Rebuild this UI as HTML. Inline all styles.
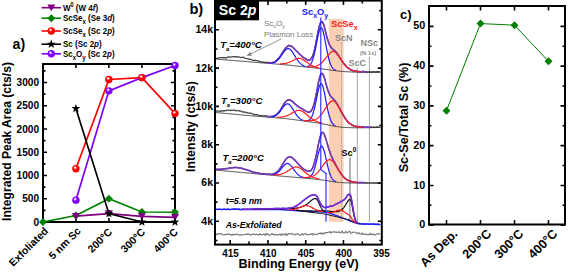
<!DOCTYPE html>
<html><head><meta charset="utf-8"><style>html,body{margin:0;padding:0;background:#fff;}svg{display:block;}</style></head>
<body><svg width="568" height="274" viewBox="0 0 568 274">
<defs><radialGradient id="g8000ff" cx="0.4" cy="0.36" r="0.6"><stop offset="0.08" stop-color="#fff"/><stop offset="0.42" stop-color="#8000ff"/><stop offset="1" stop-color="#8000ff"/></radialGradient><radialGradient id="gff0000" cx="0.4" cy="0.36" r="0.6"><stop offset="0.08" stop-color="#fff"/><stop offset="0.42" stop-color="#ff0000"/><stop offset="1" stop-color="#ff0000"/></radialGradient></defs>
<rect width="568" height="274" fill="#fff"/>
<g stroke="#000" stroke-width="2" fill="none">
<rect x="43" y="64" width="132" height="158"/>
</g>
<path d="M43,222h4M175,222h-4M43,210.38h2.5M175,210.38h-2.5M43,198.75h4M175,198.75h-4M43,187.12h2.5M175,187.12h-2.5M43,175.5h4M175,175.5h-4M43,163.88h2.5M175,163.88h-2.5M43,152.25h4M175,152.25h-4M43,140.62h2.5M175,140.62h-2.5M43,129h4M175,129h-4M43,117.38h2.5M175,117.38h-2.5M43,105.75h4M175,105.75h-4M43,94.12h2.5M175,94.12h-2.5M43,82.5h4M175,82.5h-4M43,70.88h2.5M175,70.88h-2.5M75.9,222v-4M75.9,64v4M108.9,222v-4M108.9,64v4M141.9,222v-4M141.9,64v4" stroke="#000" stroke-width="1.6" fill="none"/>
<text transform="translate(39,225.5) scale(1,1.08)" font-family="Liberation Sans, sans-serif" font-weight="bold" font-size="10.1" text-anchor="end">0</text>
<text transform="translate(39,202.25) scale(1,1.08)" font-family="Liberation Sans, sans-serif" font-weight="bold" font-size="10.1" text-anchor="end">500</text>
<text transform="translate(39,179) scale(1,1.08)" font-family="Liberation Sans, sans-serif" font-weight="bold" font-size="10.1" text-anchor="end">1000</text>
<text transform="translate(39,155.75) scale(1,1.08)" font-family="Liberation Sans, sans-serif" font-weight="bold" font-size="10.1" text-anchor="end">1500</text>
<text transform="translate(39,132.5) scale(1,1.08)" font-family="Liberation Sans, sans-serif" font-weight="bold" font-size="10.1" text-anchor="end">2000</text>
<text transform="translate(39,109.25) scale(1,1.08)" font-family="Liberation Sans, sans-serif" font-weight="bold" font-size="10.1" text-anchor="end">2500</text>
<text transform="translate(39,86) scale(1,1.08)" font-family="Liberation Sans, sans-serif" font-weight="bold" font-size="10.1" text-anchor="end">3000</text>
<text transform="translate(10.6,141.5) rotate(-90)" font-family="Liberation Sans, sans-serif" font-weight="bold" font-size="12.1" text-anchor="middle">Integrated Peak Area (cts/s)</text>
<text transform="translate(48.8,231.6) rotate(-45)" font-family="Liberation Sans, sans-serif" font-weight="bold" font-size="10.5" text-anchor="end">Exfoliated</text>
<text transform="translate(81.5,231.6) rotate(-45)" font-family="Liberation Sans, sans-serif" font-weight="bold" font-size="10.5" text-anchor="end">5 nm Sc</text>
<text transform="translate(112.8,232.6) rotate(-45)" font-family="Liberation Sans, sans-serif" font-weight="bold" font-size="10.5" text-anchor="end">200°C</text>
<text transform="translate(145.8,232.6) rotate(-45)" font-family="Liberation Sans, sans-serif" font-weight="bold" font-size="10.5" text-anchor="end">300°C</text>
<text transform="translate(178.6,232.6) rotate(-45)" font-family="Liberation Sans, sans-serif" font-weight="bold" font-size="10.5" text-anchor="end">400°C</text>
<text x="12.6" y="49.2" font-family="Liberation Sans, sans-serif" font-weight="bold" font-size="14.2">a)</text>
<path d="M75.9,200.15 L108.9,90.87 L141.9,77.62 L175,65.53" stroke="#8000ff" stroke-width="1.7" fill="none"/>
<path d="M75.9,168.76 L108.9,79.48 L141.9,77.62 L175,113.42" stroke="#ff0000" stroke-width="1.7" fill="none"/>
<path d="M43,222 L75.9,215.49 L108.9,198.75 L141.9,212 L175,212.24" stroke="#008000" stroke-width="1.7" fill="none"/>
<path d="M75.9,216.19 L108.9,213.63 L141.9,216.42 L175,217.35" stroke="#800080" stroke-width="1.7" fill="none"/>
<path d="M75.9,108.54 L108.9,213.63 L141.9,222 L175,222" stroke="#000000" stroke-width="1.7" fill="none"/>
<circle cx="75.9" cy="200.15" r="3.7" fill="url(#g8000ff)"/>
<circle cx="108.9" cy="90.87" r="3.7" fill="url(#g8000ff)"/>
<circle cx="141.9" cy="77.62" r="3.7" fill="url(#g8000ff)"/>
<circle cx="175" cy="65.53" r="3.7" fill="url(#g8000ff)"/>
<circle cx="75.9" cy="168.76" r="3.7" fill="url(#gff0000)"/>
<circle cx="108.9" cy="79.48" r="3.7" fill="url(#gff0000)"/>
<circle cx="141.9" cy="77.62" r="3.7" fill="url(#gff0000)"/>
<circle cx="175" cy="113.42" r="3.7" fill="url(#gff0000)"/>
<path d="M43,218L47,222L43,226L39,222Z" fill="#008000"/>
<path d="M75.9,211.49L79.9,215.49L75.9,219.49L71.9,215.49Z" fill="#008000"/>
<path d="M108.9,194.75L112.9,198.75L108.9,202.75L104.9,198.75Z" fill="#008000"/>
<path d="M141.9,208L145.9,212L141.9,216L137.9,212Z" fill="#008000"/>
<path d="M175,208.24L179,212.24L175,216.24L171,212.24Z" fill="#008000"/>
<path d="M71.9,212.89L79.9,212.89L75.9,219.79Z" fill="#800080"/>
<path d="M104.9,210.33L112.9,210.33L108.9,217.23Z" fill="#800080"/>
<path d="M137.9,213.12L145.9,213.12L141.9,220.02Z" fill="#800080"/>
<path d="M171,214.05L179,214.05L175,220.95Z" fill="#800080"/>
<path d="M75.9,103.94 L77.02,107 L80.27,107.12 L77.71,109.13 L78.6,112.26 L75.9,110.44 L73.2,112.26 L74.09,109.13 L71.53,107.12 L74.78,107Z" fill="#000000"/>
<path d="M108.9,209.03 L110.02,212.09 L113.27,212.21 L110.71,214.22 L111.6,217.35 L108.9,215.53 L106.2,217.35 L107.09,214.22 L104.53,212.21 L107.78,212.09Z" fill="#000000"/>
<path d="M141.9,217.4 L143.02,220.46 L146.27,220.58 L143.71,222.59 L144.6,225.72 L141.9,223.9 L139.2,225.72 L140.09,222.59 L137.53,220.58 L140.78,220.46Z" fill="#000000"/>
<path d="M175,217.4 L176.12,220.46 L179.37,220.58 L176.81,222.59 L177.7,225.72 L175,223.9 L172.3,225.72 L173.19,222.59 L170.63,220.58 L173.88,220.46Z" fill="#000000"/>
<path d="M41.5,7.7H61" stroke="#800080" stroke-width="1.6"/>
<path d="M47.3,4.4L55.3,4.4L51.3,11.3Z" fill="#800080"/>
<text transform="translate(63,10.8) scale(1,1.15)" font-family="Liberation Sans, sans-serif" font-weight="bold" font-size="8.0">W<tspan dy="-3" font-size="5.5">0</tspan><tspan dy="3"> (W 4</tspan><tspan font-style="italic">f</tspan>)</text>
<path d="M41.5,18.2H61" stroke="#008000" stroke-width="1.6"/>
<path d="M51.3,14.2L55.3,18.2L51.3,22.2L47.3,18.2Z" fill="#008000"/>
<text transform="translate(63,21.3) scale(1,1.15)" font-family="Liberation Sans, sans-serif" font-weight="bold" font-size="8.0">ScSe<tspan dy="2.5" font-size="6">x</tspan><tspan dy="-2.5"> (Se 3</tspan><tspan font-style="italic">d</tspan>)</text>
<path d="M41.5,31H61" stroke="#ff0000" stroke-width="1.6"/>
<circle cx="51.3" cy="31" r="3.7" fill="url(#gff0000)"/>
<text transform="translate(63,34.1) scale(1,1.15)" font-family="Liberation Sans, sans-serif" font-weight="bold" font-size="8.0">ScSe<tspan dy="2.5" font-size="6">x</tspan><tspan dy="-2.5"> (Sc 2</tspan><tspan font-style="italic">p</tspan>)</text>
<path d="M41.5,44.2H61" stroke="#000000" stroke-width="1.6"/>
<path d="M51.3,39.6 L52.42,42.66 L55.67,42.78 L53.11,44.79 L54,47.92 L51.3,46.1 L48.6,47.92 L49.49,44.79 L46.93,42.78 L50.18,42.66Z" fill="#000000"/>
<text transform="translate(63,47.3) scale(1,1.15)" font-family="Liberation Sans, sans-serif" font-weight="bold" font-size="8.0">Sc (Sc 2<tspan font-style="italic">p</tspan>)</text>
<path d="M41.5,53.8H61" stroke="#8000ff" stroke-width="1.6"/>
<circle cx="51.3" cy="53.8" r="3.7" fill="url(#g8000ff)"/>
<text transform="translate(63,56.9) scale(1,1.15)" font-family="Liberation Sans, sans-serif" font-weight="bold" font-size="8.0">Sc<tspan dy="2.5" font-size="6">x</tspan><tspan dy="-2.5">O</tspan><tspan dy="2.5" font-size="6">y</tspan><tspan dy="-2.5"> (Sc 2</tspan><tspan font-style="italic">p</tspan>)</text>
<rect x="328.8" y="18.8" width="14.8" height="203" fill="#fbcfb3"/>
<path d="M341.5,42.5V221.7" stroke="#888" stroke-width="0.8" stroke-dasharray="1.2,1.2"/>
<path d="M349.9,157.5V221.7" stroke="#9a9a9a" stroke-width="1.5"/>
<path d="M357.3,67.5V222M369.4,57V222" stroke="#9a9a9a" stroke-width="0.9"/>
<path d="M216,58.15 L217,58.41 L218,58.27 L219,57.79 L220,57.7 L221,57.66 L222,57.89 L223,57.52 L224,57.87 L225,57.72 L226,57.96 L227,57.74 L228,56.98 L229,57.02 L230,56.8 L231,57.12 L232,56.96 L233,56.45 L234,56.97 L235,56.62 L236,56.75 L237,57.09 L238,56.65 L239,56.99 L240,57.28 L241,57.65 L242,57.31 L243,57.26 L244,57.37 L245,58.25 L246,58.59 L247,58.69 L248,58.85 L249,59.35 L250,59.3 L251,59.2 L252,60 L253,60.42 L254,60.28 L255,60.2 L256,60.57 L257,60.7 L258,60.98 L259,61.41 L260,61.32 L261,61.92 L262,62.32 L263,61.99 L264,62.19 L265,62.85 L266,62.25 L267,62.39 L268,62.77 L269,62.28 L270,62.6 L271,63.07 L272,62.55 L273,62.48 L274,62.36 L275,61.88 L276,60.84 L277,59.79 L278,58.79 L279,57.76 L280,56.55 L281,54.76 L282,53.27 L283,51.59 L284,50.53 L285,48.74 L286,47.57 L287,47 L288,45.97 L289,45.3 L290,45.55 L291,46.33 L292,46.21 L293,47.48 L294,48.44 L295,49.45 L296,50.79 L297,51.28 L298,52.2 L299,53.5 L300,54.26 L301,55.61 L302,56.54 L303,57.36 L304,57.63 L305,58.48 L306,58.83 L307,59.56 L308,60.51 L309,60.56 L310,60.24 L311,58.71 L312,57.12 L313,55.11 L314,52 L315,47.64 L316,42.23 L317,37.69 L318,32.31 L319,27.15 L320,23.76 L321,22.35 L322,21.58 L323,23.28 L324,25.49 L325,29.81 L326,33.1 L327,37.72 L328,40.58 L329,43.18 L330,46.07 L331,47.24 L332,48.31 L333,49.6 L334,49.96 L335,50.9 L336,52 L337,53.13 L338,54.71 L339,56.41 L340,57.81 L341,59.44 L342,60.98 L343,62.36 L344,63.33 L345,64.72 L346,66.32 L347,66.94 L348,67.99 L349,68.31 L350,69.04 L351,70.01 L352,70.23 L353,70.88 L354,70.89 L355,71.02 L356,71.14 L357,71.3 L358,71.62 L359,71.93 L360,71.66 L361,71.97 L362,71.38 L363,71.37 L364,71.41 L365,72.07 L366,71.53 L367,72.01 L368,72.22 L369,71.64 L370,71.82 L371,72.36 L372,71.63 L373,71.95 L374,71.67 L375,72.16 L376,72.01 L377,71.54 L378,72.09 L379,71.59 L380,72.25" stroke="#4a4a4a" stroke-width="1.3" fill="none"/>
<path d="M216,59.07 L216.5,59.11 L217,59.15 L217.5,59.19 L218,59.23 L218.5,59.27 L219,59.31 L219.5,59.36 L220,59.4 L220.5,59.44 L221,59.48 L221.5,59.52 L222,59.56 L222.5,59.6 L223,59.65 L223.5,59.69 L224,59.73 L224.5,59.77 L225,59.81 L225.5,59.85 L226,59.9 L226.5,59.94 L227,59.98 L227.5,60.02 L228,60.06 L228.5,60.1 L229,60.14 L229.5,60.19 L230,60.23 L230.5,60.27 L231,60.31 L231.5,60.35 L232,60.39 L232.5,60.43 L233,60.48 L233.5,60.52 L234,60.56 L234.5,60.6 L235,60.64 L235.5,60.68 L236,60.72 L236.5,60.77 L237,60.81 L237.5,60.85 L238,60.89 L238.5,60.93 L239,60.97 L239.5,61.01 L240,61.06 L240.5,61.1 L241,61.14 L241.5,61.18 L242,61.22 L242.5,61.26 L243,61.3 L243.5,61.35 L244,61.39 L244.5,61.43 L245,61.47 L245.5,61.51 L246,61.55 L246.5,61.6 L247,61.64 L247.5,61.68 L248,61.72 L248.5,61.76 L249,61.8 L249.5,61.84 L250,61.88 L250.5,61.93 L251,61.97 L251.5,62.01 L252,62.05 L252.5,62.09 L253,62.13 L253.5,62.17 L254,62.21 L254.5,62.26 L255,62.3 L255.5,62.34 L256,62.38 L256.5,62.42 L257,62.46 L257.5,62.5 L258,62.54 L258.5,62.58 L259,62.62 L259.5,62.66 L260,62.71 L260.5,62.75 L261,62.79 L261.5,62.83 L262,62.87 L262.5,62.91 L263,62.95 L263.5,62.99 L264,63.03 L264.5,63.07 L265,63.11 L265.5,63.15 L266,63.19 L266.5,63.23 L267,63.28 L267.5,63.32 L268,63.36 L268.5,63.4 L269,63.44 L269.5,63.48 L270,63.52 L270.5,63.56 L271,63.6 L271.5,63.64 L272,63.68 L272.5,63.72 L273,63.76 L273.5,63.8 L274,63.84 L274.5,63.88 L275,63.93 L275.5,63.97 L276,64.01 L276.5,64.05 L277,64.09 L277.5,64.13 L278,64.17 L278.5,64.21 L279,64.25 L279.5,64.29 L280,64.34 L280.5,64.38 L281,64.42 L281.5,64.46 L282,64.5 L282.5,64.55 L283,64.59 L283.5,64.64 L284,64.68 L284.5,64.73 L285,64.77 L285.5,64.82 L286,64.86 L286.5,64.91 L287,64.96 L287.5,65.01 L288,65.06 L288.5,65.11 L289,65.16 L289.5,65.21 L290,65.26 L290.5,65.31 L291,65.37 L291.5,65.42 L292,65.47 L292.5,65.53 L293,65.58 L293.5,65.63 L294,65.69 L294.5,65.74 L295,65.8 L295.5,65.85 L296,65.91 L296.5,65.97 L297,66.02 L297.5,66.08 L298,66.13 L298.5,66.19 L299,66.25 L299.5,66.3 L300,66.36 L300.5,66.41 L301,66.47 L301.5,66.53 L302,66.58 L302.5,66.64 L303,66.69 L303.5,66.75 L304,66.81 L304.5,66.86 L305,66.92 L305.5,66.97 L306,67.03 L306.5,67.09 L307,67.14 L307.5,67.2 L308,67.25 L308.5,67.31 L309,67.37 L309.5,67.42 L310,67.48 L310.5,67.54 L311,67.59 L311.5,67.65 L312,67.71 L312.5,67.76 L313,67.82 L313.5,67.88 L314,67.93 L314.5,67.99 L315,68.05 L315.5,68.11 L316,68.17 L316.5,68.23 L317,68.29 L317.5,68.35 L318,68.41 L318.5,68.47 L319,68.53 L319.5,68.59 L320,68.65 L320.5,68.72 L321,68.78 L321.5,68.85 L322,68.91 L322.5,68.98 L323,69.04 L323.5,69.11 L324,69.18 L324.5,69.24 L325,69.31 L325.5,69.38 L326,69.45 L326.5,69.52 L327,69.58 L327.5,69.65 L328,69.72 L328.5,69.79 L329,69.86 L329.5,69.93 L330,70 L330.5,70.07 L331,70.14 L331.5,70.2 L332,70.27 L332.5,70.34 L333,70.41 L333.5,70.47 L334,70.54 L334.5,70.6 L335,70.67 L335.5,70.73 L336,70.79 L336.5,70.85 L337,70.91 L337.5,70.97 L338,71.02 L338.5,71.08 L339,71.13 L339.5,71.18 L340,71.23 L340.5,71.27 L341,71.32 L341.5,71.36 L342,71.4 L342.5,71.44 L343,71.48 L343.5,71.52 L344,71.55 L344.5,71.58 L345,71.62 L345.5,71.65 L346,71.68 L346.5,71.71 L347,71.74 L347.5,71.76 L348,71.79 L348.5,71.82 L349,71.84 L349.5,71.87 L350,71.89 L350.5,71.92 L351,71.94 L351.5,71.97 L352,71.99 L352.5,72.01 L353,72.03 L353.5,72.05 L354,72.07 L354.5,72.09 L355,72.11 L355.5,72.12 L356,72.14 L356.5,72.16 L357,72.17 L357.5,72.18 L358,72.2 L358.5,72.21 L359,72.22 L359.5,72.23 L360,72.23 L360.5,72.24 L361,72.25 L361.5,72.25 L362,72.25 L362.5,72.26 L363,72.26 L363.5,72.26 L364,72.26 L364.5,72.26 L365,72.26 L365.5,72.26 L366,72.26 L366.5,72.26 L367,72.26 L367.5,72.26 L368,72.26 L368.5,72.26 L369,72.25 L369.5,72.25 L370,72.25 L370.5,72.25 L371,72.25 L371.5,72.24 L372,72.24 L372.5,72.24 L373,72.24 L373.5,72.24 L374,72.23 L374.5,72.23 L375,72.23 L375.5,72.23 L376,72.23 L376.5,72.22 L377,72.22 L377.5,72.22 L378,72.22 L378.5,72.22 L379,72.22 L379.5,72.21 L380,72.21 L380.5,72.21" stroke="#2a2a2a" stroke-width="0.9" fill="none"/>
<path d="M267,62.87 L267.5,62.88 L268,62.89 L268.5,62.9 L269,62.89 L269.5,62.88 L270,62.86 L270.5,62.82 L271,62.78 L271.5,62.71 L272,62.63 L272.5,62.53 L273,62.4 L273.5,62.25 L274,62.07 L274.5,61.85 L275,61.6 L275.5,61.31 L276,60.98 L276.5,60.61 L277,60.19 L277.5,59.73 L278,59.22 L278.5,58.66 L279,58.05 L279.5,57.41 L280,56.72 L280.5,55.99 L281,55.24 L281.5,54.45 L282,53.65 L282.5,52.85 L283,52.03 L283.5,51.23 L284,50.45 L284.5,49.69 L285,48.98 L285.5,48.31 L286,47.71 L286.5,47.17 L287,46.7 L287.5,46.32 L288,46.02 L288.5,45.81 L289,45.69 L289.5,45.65 L290,45.71 L290.5,45.84 L291,46.05 L291.5,46.32 L292,46.66 L292.5,47.04 L293,47.47 L293.5,47.93 L294,48.41 L294.5,48.92 L295,49.43 L295.5,49.95 L296,50.48 L296.5,50.99 L297,51.51 L297.5,52.01 L298,52.51 L298.5,53 L299,53.48 L299.5,53.96 L300,54.43 L300.5,54.89 L301,55.34 L301.5,55.79 L302,56.23 L302.5,56.66 L303,57.08 L303.5,57.49 L304,57.88 L304.5,58.26 L305,58.62 L305.5,58.95 L306,59.26 L306.5,59.54 L307,59.78 L307.5,59.97 L308,60.11 L308.5,60.18 L309,60.17 L309.5,60.06 L310,59.84 L310.5,59.48 L311,58.96 L311.5,58.28 L312,57.4 L312.5,56.31 L313,55 L313.5,53.46 L314,51.7 L314.5,49.71 L315,47.51 L315.5,45.14 L316,42.61 L316.5,39.99 L317,37.32 L317.5,34.67 L318,32.09 L318.5,29.66 L319,27.45 L319.5,25.51 L320,23.92 L320.5,22.71 L321,21.93 L321.5,21.58 L322,21.67 L322.5,22.19 L323,23.08 L323.5,24.32 L324,25.83 L324.5,27.57 L325,29.45 L325.5,31.42 L326,33.42 L326.5,35.39 L327,37.29 L327.5,39.07 L328,40.72 L328.5,42.2 L329,43.51 L329.5,44.66 L330,45.65 L330.5,46.5 L331,47.22 L331.5,47.84 L332,48.38 L332.5,48.86 L333,49.31 L333.5,49.75 L334,50.19 L334.5,50.65 L335,51.14 L335.5,51.66 L336,52.22 L336.5,52.82 L337,53.46 L337.5,54.14 L338,54.85 L338.5,55.58 L339,56.34 L339.5,57.11 L340,57.88 L340.5,58.66 L341,59.44 L341.5,60.21 L342,60.97 L342.5,61.7 L343,62.42 L343.5,63.11 L344,63.78 L344.5,64.41 L345,65.02 L345.5,65.59 L346,66.13 L346.5,66.63 L347,67.1 L347.5,67.54 L348,67.94 L348.5,68.32 L349,68.66 L349.5,68.98 L350,69.27 L350.5,69.53 L351,69.77 L351.5,69.98 L352,70.18 L352.5,70.36 L353,70.51 L353.5,70.66 L354,70.79 L354.5,70.9 L355,71.01 L355.5,71.1 L356,71.18 L356.5,71.26 L357,71.33 L357.5,71.39 L358,71.44 L358.5,71.49 L359,71.53 L359.5,71.57 L360,71.61 L360.5,71.64 L361,71.67 L361.5,71.7 L362,71.72 L362.5,71.74 L363,71.76 L363.5,71.78 L364,71.79 L364.5,71.81 L365,71.82 L365.5,71.83 L366,71.84 L366.5,71.86" stroke="#7a28d8" stroke-width="1.5" fill="none"/>
<path d="M267,62.09 L268,62.47 L269,61.98 L270,62.3 L271,62.77 L272,62.25 L273,62.18 L274,62.06 L275,61.58 L276,60.54 L277,59.49 L278,58.49 L279,57.46 L280,56.25 L281,54.46 L282,52.97 L283,51.29 L284,50.23 L285,48.44 L286,47.27 L287,46.7 L288,45.67 L289,45 L290,45.25 L291,46.03 L292,45.91 L293,47.18 L294,48.14 L295,49.15 L296,50.49 L297,50.98 L298,51.9 L299,53.2 L300,53.96 L301,55.31 L302,56.24 L303,57.06 L304,57.33 L305,58.18 L306,58.53 L307,59.26 L308,60.21 L309,60.26 L310,59.94 L311,58.41 L312,56.82 L313,54.81 L314,51.7 L315,47.34 L316,41.93 L317,37.39 L318,32.01 L319,26.85 L320,23.46 L321,22.05 L322,21.28 L323,22.98 L324,25.19 L325,29.51 L326,32.8 L327,37.42 L328,40.28 L329,42.88 L330,45.77 L331,46.94 L332,48.01 L333,49.3 L334,49.66 L335,50.6 L336,51.7 L337,52.83 L338,54.41 L339,56.11 L340,57.51 L341,59.14 L342,60.68 L343,62.06 L344,63.03 L345,64.42 L346,66.02 L347,66.64 L348,67.69 L349,68.01 L350,68.74 L351,69.71 L352,69.93 L353,70.58 L354,70.59 L355,70.72 L356,70.84 L357,71 L358,71.32 L359,71.63 L360,71.36 L361,71.67 L362,71.08 L363,71.07 L364,71.11 L365,71.77 L366,71.23" stroke="#666" stroke-width="0.6" stroke-opacity="0.55" fill="none"/>
<path d="M271,63.09 L271.5,63.04 L272,62.97 L272.5,62.88 L273,62.76 L273.5,62.62 L274,62.45 L274.5,62.25 L275,62.01 L275.5,61.74 L276,61.43 L276.5,61.08 L277,60.68 L277.5,60.24 L278,59.75 L278.5,59.23 L279,58.66 L279.5,58.05 L280,57.4 L280.5,56.72 L281,56.02 L281.5,55.3 L282,54.57 L282.5,53.83 L283,53.1 L283.5,52.4 L284,51.72 L284.5,51.08 L285,50.49 L285.5,49.97 L286,49.51 L286.5,49.14 L287,48.86 L287.5,48.68 L288,48.59 L288.5,48.61 L289,48.73 L289.5,48.96 L290,49.28 L290.5,49.7 L291,50.21 L291.5,50.79 L292,51.44 L292.5,52.15 L293,52.9 L293.5,53.69 L294,54.51 L294.5,55.34 L295,56.17 L295.5,57 L296,57.81 L296.5,58.6 L297,59.36 L297.5,60.09 L298,60.79 L298.5,61.44 L299,62.04 L299.5,62.61 L300,63.13 L300.5,63.6 L301,64.04 L301.5,64.43 L302,64.78 L302.5,65.1 L303,65.39 L303.5,65.64 L304,65.87 L304.5,66.07 L305,66.25 L305.5,66.41" stroke="#1a1aff" stroke-width="1.2" fill="none"/>
<path d="M306.5,66.56 L307,66.49 L307.5,66.39 L308,66.23 L308.5,66.02 L309,65.73 L309.5,65.36 L310,64.88 L310.5,64.28 L311,63.54 L311.5,62.64 L312,61.56 L312.5,60.3 L313,58.84 L313.5,57.17 L314,55.3 L314.5,53.24 L315,51 L315.5,48.62 L316,46.12 L316.5,43.56 L317,40.99 L317.5,38.47 L318,36.07 L318.5,33.86 L319,31.9 L319.5,30.27 L320,29.01 L320.5,28.18 L321,27.82 L321.5,27.93 L322,28.52 L322.5,29.56 L323,31.03 L323.5,32.86 L324,35 L324.5,37.39 L325,39.94 L325.5,42.61 L326,45.31 L326.5,47.99 L327,50.59 L327.5,53.08 L328,55.41 L328.5,57.56 L329,59.52 L329.5,61.27 L330,62.82 L330.5,64.17 L331,65.33 L331.5,66.32 L332,67.16 L332.5,67.86 L333,68.44 L333.5,68.92 L334,69.31 L334.5,69.63 L335,69.89 L335.5,70.11 L336,70.29" stroke="#1a1aff" stroke-width="1.2" fill="none"/>
<path d="M280,63.82 L280.5,63.82 L281,63.81 L281.5,63.8 L282,63.78 L282.5,63.75 L283,63.71 L283.5,63.67 L284,63.61 L284.5,63.54 L285,63.47 L285.5,63.37 L286,63.27 L286.5,63.16 L287,63.03 L287.5,62.88 L288,62.72 L288.5,62.55 L289,62.36 L289.5,62.16 L290,61.95 L290.5,61.72 L291,61.48 L291.5,61.24 L292,60.98 L292.5,60.72 L293,60.46 L293.5,60.19 L294,59.93 L294.5,59.68 L295,59.43 L295.5,59.2 L296,58.98 L296.5,58.79 L297,58.62 L297.5,58.48 L298,58.38 L298.5,58.31 L299,58.29 L299.5,58.3 L300,58.37 L300.5,58.47 L301,58.61 L301.5,58.8 L302,59.02 L302.5,59.28 L303,59.56 L303.5,59.87 L304,60.21 L304.5,60.55 L305,60.91 L305.5,61.28 L306,61.65 L306.5,62.03 L307,62.4 L307.5,62.77 L308,63.13 L308.5,63.49 L309,63.83 L309.5,64.16 L310,64.48 L310.5,64.79 L311,65.08 L311.5,65.36 L312,65.62 L312.5,65.86 L313,66.1 L313.5,66.32 L314,66.52 L314.5,66.71 L315,66.89 L315.5,67.06 L316,67.22 L316.5,67.36 L317,67.5 L317.5,67.63 L318,67.75 L318.5,67.87 L319,67.98 L319.5,68.09" stroke="#ff1a1a" stroke-width="1.2" fill="none"/>
<path d="M306.5,66.58 L307,66.62 L307.5,66.65 L308,66.67 L308.5,66.7 L309,66.72 L309.5,66.73 L310,66.75 L310.5,66.75 L311,66.75 L311.5,66.74 L312,66.72 L312.5,66.7 L313,66.66 L313.5,66.61 L314,66.55 L314.5,66.47 L315,66.38 L315.5,66.27 L316,66.14 L316.5,65.98 L317,65.81 L317.5,65.61 L318,65.38 L318.5,65.13 L319,64.85 L319.5,64.54 L320,64.2 L320.5,63.82 L321,63.42 L321.5,62.98 L322,62.51 L322.5,62.01 L323,61.48 L323.5,60.93 L324,60.35 L324.5,59.74 L325,59.12 L325.5,58.48 L326,57.84 L326.5,57.19 L327,56.54 L327.5,55.89 L328,55.26 L328.5,54.66 L329,54.08 L329.5,53.54 L330,53.04 L330.5,52.6 L331,52.22 L331.5,51.91 L332,51.67 L332.5,51.52 L333,51.45 L333.5,51.47 L334,51.58 L334.5,51.78 L335,52.07 L335.5,52.43 L336,52.87 L336.5,53.38 L337,53.95 L337.5,54.57 L338,55.24 L338.5,55.94 L339,56.67 L339.5,57.42 L340,58.18 L340.5,58.94 L341,59.71 L341.5,60.47 L342,61.21 L342.5,61.94 L343,62.65 L343.5,63.33 L344,63.99 L344.5,64.62 L345,65.22 L345.5,65.78 L346,66.32 L346.5,66.81 L347,67.28 L347.5,67.71 L348,68.11 L348.5,68.48 L349,68.82 L349.5,69.13 L350,69.42 L350.5,69.68 L351,69.91 L351.5,70.12 L352,70.32 L352.5,70.49 L353,70.65 L353.5,70.79 L354,70.91 L354.5,71.03 L355,71.13 L355.5,71.22 L356,71.3 L356.5,71.37 L357,71.44 L357.5,71.49 L358,71.55 L358.5,71.59 L359,71.64 L359.5,71.67 L360,71.71 L360.5,71.74" stroke="#ff1a1a" stroke-width="1.2" fill="none"/>
<path d="M216,111.05 L217,110.95 L218,111.1 L219,111.17 L220,111.46 L221,110.78 L222,111.07 L223,110.56 L224,111.01 L225,110.37 L226,110.79 L227,110.22 L228,110.14 L229,110.43 L230,110.48 L231,110.19 L232,110.42 L233,110.05 L234,110.03 L235,110.31 L236,110.79 L237,110.66 L238,110.64 L239,110.7 L240,111.3 L241,110.99 L242,111.86 L243,111.98 L244,111.91 L245,112.06 L246,112.58 L247,112.52 L248,113.1 L249,113.09 L250,113.03 L251,113.3 L252,113.71 L253,113.79 L254,114.73 L255,114.42 L256,114.64 L257,114.72 L258,115 L259,115.81 L260,115.32 L261,115.53 L262,115.4 L263,115.96 L264,115.83 L265,115.76 L266,115.93 L267,115.97 L268,116.27 L269,116.56 L270,116.71 L271,116.64 L272,116.24 L273,116.59 L274,116.05 L275,115.01 L276,115.17 L277,114.25 L278,112.73 L279,111.86 L280,110.75 L281,109.02 L282,107.47 L283,105.4 L284,103.7 L285,102.22 L286,101.42 L287,100.59 L288,99.93 L289,100.06 L290,99.99 L291,100.62 L292,101.4 L293,101.65 L294,103.15 L295,104.07 L296,104.72 L297,105.51 L298,106.5 L299,107.07 L300,107.26 L301,108.41 L302,108.86 L303,109.02 L304,110.17 L305,110.78 L306,111.19 L307,111.64 L308,112.37 L309,112.55 L310,111.44 L311,111.39 L312,109.6 L313,107.11 L314,103.92 L315,99.77 L316,95.67 L317,90.29 L318,85.09 L319,79.76 L320,76.29 L321,73.62 L322,73.45 L323,74.21 L324,76.71 L325,79.64 L326,83.98 L327,87.59 L328,90.72 L329,92.85 L330,95.45 L331,96.43 L332,97.56 L333,98.45 L334,99.65 L335,100.76 L336,102.31 L337,103.67 L338,105.79 L339,107.34 L340,109.49 L341,111.18 L342,113.06 L343,114.89 L344,116.18 L345,118.34 L346,119.38 L347,120.51 L348,122.26 L349,122.96 L350,123.71 L351,124.07 L352,124.7 L353,125.44 L354,126.21 L355,126.11 L356,126.14 L357,126.47 L358,126.54 L359,126.96 L360,127.21 L361,126.98 L362,127 L363,126.75 L364,127.59 L365,127.19 L366,127.52 L367,126.99 L368,127.1 L369,127.59 L370,127.51 L371,126.74 L372,127.5 L373,127.21 L374,127.02 L375,127.39 L376,127.51 L377,126.72 L378,127.08 L379,127.44 L380,127.16" stroke="#4a4a4a" stroke-width="1.3" fill="none"/>
<path d="M216,112.58 L216.5,112.63 L217,112.67 L217.5,112.72 L218,112.76 L218.5,112.81 L219,112.85 L219.5,112.9 L220,112.94 L220.5,112.99 L221,113.03 L221.5,113.08 L222,113.12 L222.5,113.17 L223,113.21 L223.5,113.26 L224,113.3 L224.5,113.35 L225,113.39 L225.5,113.44 L226,113.48 L226.5,113.53 L227,113.57 L227.5,113.62 L228,113.66 L228.5,113.71 L229,113.75 L229.5,113.8 L230,113.84 L230.5,113.89 L231,113.93 L231.5,113.98 L232,114.02 L232.5,114.07 L233,114.11 L233.5,114.16 L234,114.2 L234.5,114.25 L235,114.3 L235.5,114.34 L236,114.39 L236.5,114.43 L237,114.48 L237.5,114.52 L238,114.57 L238.5,114.61 L239,114.66 L239.5,114.7 L240,114.75 L240.5,114.79 L241,114.84 L241.5,114.88 L242,114.93 L242.5,114.97 L243,115.02 L243.5,115.06 L244,115.11 L244.5,115.15 L245,115.2 L245.5,115.24 L246,115.29 L246.5,115.33 L247,115.38 L247.5,115.42 L248,115.47 L248.5,115.51 L249,115.56 L249.5,115.6 L250,115.64 L250.5,115.69 L251,115.73 L251.5,115.78 L252,115.82 L252.5,115.86 L253,115.91 L253.5,115.95 L254,115.99 L254.5,116.03 L255,116.08 L255.5,116.12 L256,116.16 L256.5,116.2 L257,116.24 L257.5,116.28 L258,116.32 L258.5,116.37 L259,116.41 L259.5,116.45 L260,116.49 L260.5,116.53 L261,116.57 L261.5,116.61 L262,116.65 L262.5,116.68 L263,116.72 L263.5,116.76 L264,116.8 L264.5,116.84 L265,116.88 L265.5,116.92 L266,116.96 L266.5,117 L267,117.04 L267.5,117.08 L268,117.12 L268.5,117.15 L269,117.19 L269.5,117.23 L270,117.27 L270.5,117.31 L271,117.35 L271.5,117.39 L272,117.43 L272.5,117.47 L273,117.51 L273.5,117.55 L274,117.58 L274.5,117.62 L275,117.66 L275.5,117.7 L276,117.74 L276.5,117.78 L277,117.82 L277.5,117.86 L278,117.9 L278.5,117.94 L279,117.98 L279.5,118.02 L280,118.06 L280.5,118.1 L281,118.15 L281.5,118.19 L282,118.23 L282.5,118.28 L283,118.32 L283.5,118.37 L284,118.42 L284.5,118.46 L285,118.51 L285.5,118.56 L286,118.62 L286.5,118.67 L287,118.72 L287.5,118.78 L288,118.84 L288.5,118.9 L289,118.95 L289.5,119.02 L290,119.08 L290.5,119.14 L291,119.2 L291.5,119.27 L292,119.34 L292.5,119.4 L293,119.47 L293.5,119.54 L294,119.61 L294.5,119.67 L295,119.74 L295.5,119.81 L296,119.88 L296.5,119.95 L297,120.03 L297.5,120.1 L298,120.17 L298.5,120.24 L299,120.31 L299.5,120.38 L300,120.45 L300.5,120.52 L301,120.59 L301.5,120.67 L302,120.74 L302.5,120.81 L303,120.88 L303.5,120.95 L304,121.02 L304.5,121.09 L305,121.16 L305.5,121.23 L306,121.31 L306.5,121.38 L307,121.45 L307.5,121.52 L308,121.59 L308.5,121.66 L309,121.73 L309.5,121.81 L310,121.88 L310.5,121.95 L311,122.02 L311.5,122.09 L312,122.17 L312.5,122.24 L313,122.31 L313.5,122.39 L314,122.46 L314.5,122.53 L315,122.61 L315.5,122.69 L316,122.76 L316.5,122.84 L317,122.92 L317.5,123 L318,123.08 L318.5,123.17 L319,123.25 L319.5,123.33 L320,123.42 L320.5,123.51 L321,123.6 L321.5,123.69 L322,123.78 L322.5,123.87 L323,123.96 L323.5,124.06 L324,124.15 L324.5,124.25 L325,124.35 L325.5,124.45 L326,124.54 L326.5,124.64 L327,124.74 L327.5,124.84 L328,124.94 L328.5,125.05 L329,125.15 L329.5,125.25 L330,125.35 L330.5,125.45 L331,125.55 L331.5,125.65 L332,125.75 L332.5,125.84 L333,125.94 L333.5,126.04 L334,126.13 L334.5,126.22 L335,126.31 L335.5,126.4 L336,126.48 L336.5,126.56 L337,126.64 L337.5,126.72 L338,126.79 L338.5,126.86 L339,126.93 L339.5,126.99 L340,127.05 L340.5,127.11 L341,127.16 L341.5,127.21 L342,127.25 L342.5,127.3 L343,127.33 L343.5,127.37 L344,127.4 L344.5,127.43 L345,127.46 L345.5,127.49 L346,127.51 L346.5,127.53 L347,127.55 L347.5,127.57 L348,127.59 L348.5,127.6 L349,127.62 L349.5,127.63 L350,127.65 L350.5,127.66 L351,127.67 L351.5,127.68 L352,127.7 L352.5,127.71 L353,127.72 L353.5,127.73 L354,127.74 L354.5,127.75 L355,127.75 L355.5,127.76 L356,127.77 L356.5,127.78 L357,127.78 L357.5,127.78 L358,127.79 L358.5,127.79 L359,127.79 L359.5,127.79 L360,127.79 L360.5,127.79 L361,127.78 L361.5,127.78 L362,127.77 L362.5,127.77 L363,127.76 L363.5,127.75 L364,127.74 L364.5,127.73 L365,127.72 L365.5,127.71 L366,127.7 L366.5,127.68 L367,127.67 L367.5,127.66 L368,127.64 L368.5,127.63 L369,127.61 L369.5,127.6 L370,127.58 L370.5,127.57 L371,127.55 L371.5,127.53 L372,127.52 L372.5,127.5 L373,127.49 L373.5,127.47 L374,127.46 L374.5,127.44 L375,127.43 L375.5,127.41 L376,127.4 L376.5,127.38 L377,127.37 L377.5,127.36 L378,127.34 L378.5,127.33 L379,127.32 L379.5,127.31 L380,127.3 L380.5,127.29" stroke="#2a2a2a" stroke-width="0.9" fill="none"/>
<path d="M266.5,116.58 L267,116.6 L267.5,116.62 L268,116.63 L268.5,116.64 L269,116.64 L269.5,116.63 L270,116.62 L270.5,116.59 L271,116.56 L271.5,116.5 L272,116.43 L272.5,116.34 L273,116.23 L273.5,116.09 L274,115.92 L274.5,115.71 L275,115.47 L275.5,115.19 L276,114.87 L276.5,114.5 L277,114.08 L277.5,113.61 L278,113.09 L278.5,112.51 L279,111.89 L279.5,111.22 L280,110.51 L280.5,109.76 L281,108.97 L281.5,108.16 L282,107.33 L282.5,106.49 L283,105.66 L283.5,104.84 L284,104.05 L284.5,103.3 L285,102.6 L285.5,101.95 L286,101.38 L286.5,100.89 L287,100.49 L287.5,100.18 L288,99.96 L288.5,99.83 L289,99.8 L289.5,99.86 L290,100 L290.5,100.21 L291,100.49 L291.5,100.82 L292,101.19 L292.5,101.61 L293,102.04 L293.5,102.5 L294,102.95 L294.5,103.41 L295,103.87 L295.5,104.31 L296,104.73 L296.5,105.14 L297,105.54 L297.5,105.91 L298,106.27 L298.5,106.62 L299,106.95 L299.5,107.27 L300,107.58 L300.5,107.89 L301,108.2 L301.5,108.51 L302,108.81 L302.5,109.11 L303,109.42 L303.5,109.72 L304,110.03 L304.5,110.33 L305,110.63 L305.5,110.91 L306,111.19 L306.5,111.44 L307,111.67 L307.5,111.87 L308,112.02 L308.5,112.11 L309,112.13 L309.5,112.06 L310,111.88 L310.5,111.57 L311,111.11 L311.5,110.48 L312,109.66 L312.5,108.63 L313,107.38 L313.5,105.9 L314,104.19 L314.5,102.25 L315,100.1 L315.5,97.76 L316,95.27 L316.5,92.67 L317,90.01 L317.5,87.34 L318,84.74 L318.5,82.27 L319,80 L319.5,78 L320,76.31 L320.5,74.99 L321,74.07 L321.5,73.57 L322,73.5 L322.5,73.83 L323,74.54 L323.5,75.57 L324,76.88 L324.5,78.41 L325,80.09 L325.5,81.87 L326,83.68 L326.5,85.47 L327,87.21 L327.5,88.85 L328,90.36 L328.5,91.74 L329,92.97 L329.5,94.06 L330,95.01 L330.5,95.83 L331,96.56 L331.5,97.19 L332,97.77 L332.5,98.3 L333,98.81 L333.5,99.33 L334,99.85 L334.5,100.4 L335,100.99 L335.5,101.62 L336,102.3 L336.5,103.02 L337,103.79 L337.5,104.6 L338,105.45 L338.5,106.33 L339,107.23 L339.5,108.16 L340,109.1 L340.5,110.04 L341,110.99 L341.5,111.93 L342,112.86 L342.5,113.77 L343,114.67 L343.5,115.54 L344,116.38 L344.5,117.19 L345,117.96 L345.5,118.7 L346,119.41 L346.5,120.07 L347,120.7 L347.5,121.29 L348,121.84 L348.5,122.35 L349,122.82 L349.5,123.26 L350,123.66 L350.5,124.03 L351,124.37 L351.5,124.68 L352,124.96 L352.5,125.22 L353,125.45 L353.5,125.66 L354,125.84 L354.5,126.01 L355,126.16 L355.5,126.3 L356,126.42 L356.5,126.52 L357,126.62 L357.5,126.7 L358,126.78 L358.5,126.84 L359,126.9 L359.5,126.95 L360,126.99 L360.5,127.03 L361,127.06 L361.5,127.09 L362,127.11 L362.5,127.13 L363,127.15 L363.5,127.16 L364,127.17 L364.5,127.18 L365,127.19 L365.5,127.19 L366,127.2 L366.5,127.2 L367,127.2 L367.5,127.19 L368,127.19 L368.5,127.19 L369,127.19 L369.5,127.18 L370,127.18" stroke="#7a28d8" stroke-width="1.5" fill="none"/>
<path d="M267,115.67 L268,115.97 L269,116.26 L270,116.41 L271,116.34 L272,115.94 L273,116.29 L274,115.75 L275,114.71 L276,114.87 L277,113.95 L278,112.43 L279,111.56 L280,110.45 L281,108.72 L282,107.17 L283,105.1 L284,103.4 L285,101.92 L286,101.12 L287,100.29 L288,99.63 L289,99.76 L290,99.69 L291,100.32 L292,101.1 L293,101.35 L294,102.85 L295,103.77 L296,104.42 L297,105.21 L298,106.2 L299,106.77 L300,106.96 L301,108.11 L302,108.56 L303,108.72 L304,109.87 L305,110.48 L306,110.89 L307,111.34 L308,112.07 L309,112.25 L310,111.14 L311,111.09 L312,109.3 L313,106.81 L314,103.62 L315,99.47 L316,95.37 L317,89.99 L318,84.79 L319,79.46 L320,75.99 L321,73.32 L322,73.15 L323,73.91 L324,76.41 L325,79.34 L326,83.68 L327,87.29 L328,90.42 L329,92.55 L330,95.15 L331,96.13 L332,97.26 L333,98.15 L334,99.35 L335,100.46 L336,102.01 L337,103.37 L338,105.49 L339,107.04 L340,109.19 L341,110.88 L342,112.76 L343,114.59 L344,115.88 L345,118.04 L346,119.08 L347,120.21 L348,121.96 L349,122.66 L350,123.41 L351,123.77 L352,124.4 L353,125.14 L354,125.91 L355,125.81 L356,125.84 L357,126.17 L358,126.24 L359,126.66 L360,126.91 L361,126.68 L362,126.7 L363,126.45 L364,127.29 L365,126.89 L366,127.22 L367,126.69 L368,126.8 L369,127.29 L370,127.21" stroke="#666" stroke-width="0.6" stroke-opacity="0.55" fill="none"/>
<path d="M272,116.87 L272.5,116.79 L273,116.7 L273.5,116.58 L274,116.43 L274.5,116.25 L275,116.03 L275.5,115.78 L276,115.49 L276.5,115.15 L277,114.77 L277.5,114.35 L278,113.88 L278.5,113.36 L279,112.8 L279.5,112.2 L280,111.56 L280.5,110.89 L281,110.2 L281.5,109.5 L282,108.78 L282.5,108.07 L283,107.38 L283.5,106.71 L284,106.09 L284.5,105.52 L285,105.01 L285.5,104.57 L286,104.23 L286.5,103.98 L287,103.83 L287.5,103.79 L288,103.86 L288.5,104.03 L289,104.32 L289.5,104.7 L290,105.18 L290.5,105.74 L291,106.38 L291.5,107.07 L292,107.82 L292.5,108.61 L293,109.42 L293.5,110.24 L294,111.06 L294.5,111.88 L295,112.68 L295.5,113.45 L296,114.19 L296.5,114.9 L297,115.56 L297.5,116.18 L298,116.75 L298.5,117.28 L299,117.76 L299.5,118.2 L300,118.59 L300.5,118.95 L301,119.26 L301.5,119.55 L302,119.8 L302.5,120.03 L303,120.23 L303.5,120.41" stroke="#1a1aff" stroke-width="1.2" fill="none"/>
<path d="M306.5,120.86 L307,120.81 L307.5,120.73 L308,120.59 L308.5,120.4 L309,120.14 L309.5,119.79 L310,119.34 L310.5,118.77 L311,118.07 L311.5,117.21 L312,116.17 L312.5,114.96 L313,113.55 L313.5,111.94 L314,110.14 L314.5,108.14 L315,105.98 L315.5,103.67 L316,101.26 L316.5,98.78 L317,96.29 L317.5,93.86 L318,91.54 L318.5,89.4 L319,87.51 L319.5,85.94 L320,84.74 L320.5,83.96 L321,83.63 L321.5,83.77 L322,84.37 L322.5,85.42 L323,86.88 L323.5,88.69 L324,90.81 L324.5,93.17 L325,95.7 L325.5,98.33 L326,101 L326.5,103.64 L327,106.22 L327.5,108.67 L328,110.98 L328.5,113.11 L329,115.06 L329.5,116.8 L330,118.34 L330.5,119.69 L331,120.86 L331.5,121.86 L332,122.71 L332.5,123.42 L333,124.02 L333.5,124.52 L334,124.93 L334.5,125.27 L335,125.55 L335.5,125.79" stroke="#1a1aff" stroke-width="1.2" fill="none"/>
<path d="M277,117.3 L277.5,117.3 L278,117.3 L278.5,117.28 L279,117.27 L279.5,117.24 L280,117.21 L280.5,117.17 L281,117.12 L281.5,117.06 L282,117 L282.5,116.92 L283,116.83 L283.5,116.73 L284,116.62 L284.5,116.49 L285,116.35 L285.5,116.2 L286,116.03 L286.5,115.85 L287,115.65 L287.5,115.45 L288,115.22 L288.5,114.99 L289,114.74 L289.5,114.48 L290,114.21 L290.5,113.94 L291,113.65 L291.5,113.36 L292,113.07 L292.5,112.78 L293,112.49 L293.5,112.2 L294,111.92 L294.5,111.66 L295,111.41 L295.5,111.17 L296,110.96 L296.5,110.78 L297,110.62 L297.5,110.5 L298,110.41 L298.5,110.36 L299,110.35 L299.5,110.38 L300,110.46 L300.5,110.58 L301,110.74 L301.5,110.94 L302,111.17 L302.5,111.45 L303,111.75 L303.5,112.08 L304,112.44 L304.5,112.82 L305,113.21 L305.5,113.62 L306,114.04 L306.5,114.47 L307,114.9 L307.5,115.33 L308,115.75 L308.5,116.18 L309,116.6 L309.5,117.01 L310,117.41 L310.5,117.8 L311,118.17 L311.5,118.54 L312,118.88 L312.5,119.22 L313,119.54 L313.5,119.84 L314,120.13 L314.5,120.41 L315,120.67 L315.5,120.92 L316,121.16 L316.5,121.38 L317,121.59 L317.5,121.79 L318,121.98 L318.5,122.16 L319,122.33 L319.5,122.5 L320,122.65 L320.5,122.81 L321,122.95 L321.5,123.09 L322,123.23 L322.5,123.36" stroke="#ff1a1a" stroke-width="1.2" fill="none"/>
<path d="M303.5,120.43 L304,120.48 L304.5,120.53 L305,120.57 L305.5,120.61 L306,120.65 L306.5,120.68 L307,120.71 L307.5,120.73 L308,120.74 L308.5,120.75 L309,120.76 L309.5,120.75 L310,120.73 L310.5,120.7 L311,120.66 L311.5,120.61 L312,120.54 L312.5,120.45 L313,120.35 L313.5,120.22 L314,120.07 L314.5,119.9 L315,119.71 L315.5,119.49 L316,119.23 L316.5,118.95 L317,118.64 L317.5,118.3 L318,117.92 L318.5,117.5 L319,117.05 L319.5,116.56 L320,116.04 L320.5,115.48 L321,114.89 L321.5,114.27 L322,113.61 L322.5,112.92 L323,112.21 L323.5,111.47 L324,110.72 L324.5,109.95 L325,109.17 L325.5,108.39 L326,107.6 L326.5,106.83 L327,106.07 L327.5,105.34 L328,104.63 L328.5,103.96 L329,103.34 L329.5,102.78 L330,102.27 L330.5,101.84 L331,101.48 L331.5,101.21 L332,101.03 L332.5,100.94 L333,100.95 L333.5,101.05 L334,101.25 L334.5,101.55 L335,101.94 L335.5,102.42 L336,102.98 L336.5,103.61 L337,104.3 L337.5,105.06 L338,105.86 L338.5,106.71 L339,107.59 L339.5,108.49 L340,109.41 L340.5,110.34 L341,111.28 L341.5,112.21 L342,113.13 L342.5,114.03 L343,114.92 L343.5,115.78 L344,116.61 L344.5,117.42 L345,118.19 L345.5,118.92 L346,119.62 L346.5,120.28 L347,120.9 L347.5,121.48 L348,122.02 L348.5,122.53 L349,123 L349.5,123.43 L350,123.83 L350.5,124.2 L351,124.53 L351.5,124.84 L352,125.12 L352.5,125.37 L353,125.59 L353.5,125.8 L354,125.98 L354.5,126.15 L355,126.3 L355.5,126.43 L356,126.54 L356.5,126.65 L357,126.74 L357.5,126.82 L358,126.89 L358.5,126.96 L359,127.01 L359.5,127.06 L360,127.1 L360.5,127.14 L361,127.17 L361.5,127.19 L362,127.21 L362.5,127.23 L363,127.25" stroke="#ff1a1a" stroke-width="1.2" fill="none"/>
<path d="M216,169.48 L217,169.09 L218,169.23 L219,169.56 L220,169.03 L221,169.41 L222,168.84 L223,169.09 L224,168.84 L225,168.88 L226,168.46 L227,168.89 L228,168.66 L229,167.92 L230,168.42 L231,167.69 L232,167.74 L233,167.57 L234,167.73 L235,167.3 L236,167.41 L237,167.77 L238,167.96 L239,167.82 L240,168.41 L241,168.49 L242,168.19 L243,168.53 L244,169.01 L245,169.08 L246,169.81 L247,169.68 L248,170.08 L249,170.35 L250,170.61 L251,171.68 L252,171.84 L253,172.31 L254,171.91 L255,172.67 L256,172.83 L257,172.79 L258,172.8 L259,173.08 L260,173.86 L261,174.02 L262,173.61 L263,174.15 L264,173.57 L265,173.96 L266,173.89 L267,174.6 L268,174.22 L269,174.57 L270,173.91 L271,174.66 L272,174.4 L273,173.85 L274,174.12 L275,173.07 L276,172.54 L277,171.5 L278,171.36 L279,170.23 L280,168.24 L281,167.37 L282,165.22 L283,163.58 L284,162.37 L285,160.72 L286,159.41 L287,158.16 L288,157.17 L289,157.21 L290,156.66 L291,156.98 L292,157.33 L293,158.33 L294,159.72 L295,160.16 L296,161.06 L297,162.69 L298,163.35 L299,164.77 L300,165.93 L301,166.84 L302,167.93 L303,168.54 L304,169.48 L305,169.73 L306,170.22 L307,171.06 L308,171.16 L309,171.3 L310,171.27 L311,170.69 L312,168.91 L313,167.23 L314,163.72 L315,160.18 L316,156.61 L317,151.71 L318,146.59 L319,141.22 L320,137.71 L321,134.39 L322,132.46 L323,132.31 L324,133.71 L325,136.44 L326,138.94 L327,142.94 L328,146.03 L329,149.69 L330,151.96 L331,154.88 L332,157.45 L333,159.17 L334,161.4 L335,163.24 L336,165.12 L337,166.99 L338,169.22 L339,170.47 L340,172.41 L341,173.26 L342,175 L343,176.21 L344,177.35 L345,177.88 L346,179.24 L347,179.42 L348,180.23 L349,180.49 L350,181.19 L351,181.12 L352,181.98 L353,181.63 L354,182.45 L355,182.16 L356,182.65 L357,182.72 L358,182.71 L359,182.73 L360,182.44 L361,182.87 L362,182.36 L363,182.67 L364,182.34 L365,182.92 L366,182.33 L367,183.01 L368,183.11 L369,182.92 L370,182.97 L371,182.81 L372,182.84 L373,182.88 L374,182.52 L375,182.96 L376,183.23 L377,182.97 L378,183 L379,182.71 L380,182.69" stroke="#666" stroke-width="1.3" fill="none"/>
<path d="M216,170.08 L216.5,170.13 L217,170.18 L217.5,170.22 L218,170.27 L218.5,170.32 L219,170.36 L219.5,170.41 L220,170.45 L220.5,170.5 L221,170.55 L221.5,170.59 L222,170.64 L222.5,170.69 L223,170.73 L223.5,170.78 L224,170.82 L224.5,170.87 L225,170.92 L225.5,170.96 L226,171.01 L226.5,171.06 L227,171.1 L227.5,171.15 L228,171.19 L228.5,171.24 L229,171.29 L229.5,171.33 L230,171.38 L230.5,171.43 L231,171.47 L231.5,171.52 L232,171.56 L232.5,171.61 L233,171.66 L233.5,171.7 L234,171.75 L234.5,171.79 L235,171.84 L235.5,171.89 L236,171.93 L236.5,171.98 L237,172.03 L237.5,172.07 L238,172.12 L238.5,172.16 L239,172.21 L239.5,172.26 L240,172.3 L240.5,172.35 L241,172.4 L241.5,172.44 L242,172.49 L242.5,172.53 L243,172.58 L243.5,172.63 L244,172.67 L244.5,172.72 L245,172.77 L245.5,172.81 L246,172.86 L246.5,172.9 L247,172.95 L247.5,173 L248,173.04 L248.5,173.09 L249,173.13 L249.5,173.18 L250,173.23 L250.5,173.27 L251,173.32 L251.5,173.37 L252,173.41 L252.5,173.46 L253,173.5 L253.5,173.55 L254,173.6 L254.5,173.64 L255,173.69 L255.5,173.74 L256,173.78 L256.5,173.83 L257,173.87 L257.5,173.92 L258,173.97 L258.5,174.01 L259,174.06 L259.5,174.11 L260,174.15 L260.5,174.2 L261,174.24 L261.5,174.29 L262,174.34 L262.5,174.38 L263,174.43 L263.5,174.47 L264,174.52 L264.5,174.57 L265,174.61 L265.5,174.66 L266,174.71 L266.5,174.75 L267,174.8 L267.5,174.84 L268,174.89 L268.5,174.94 L269,174.98 L269.5,175.03 L270,175.08 L270.5,175.12 L271,175.17 L271.5,175.21 L272,175.26 L272.5,175.31 L273,175.35 L273.5,175.4 L274,175.44 L274.5,175.49 L275,175.54 L275.5,175.58 L276,175.63 L276.5,175.67 L277,175.72 L277.5,175.76 L278,175.81 L278.5,175.85 L279,175.9 L279.5,175.94 L280,175.99 L280.5,176.03 L281,176.08 L281.5,176.12 L282,176.17 L282.5,176.21 L283,176.26 L283.5,176.3 L284,176.34 L284.5,176.39 L285,176.43 L285.5,176.48 L286,176.52 L286.5,176.56 L287,176.61 L287.5,176.65 L288,176.69 L288.5,176.74 L289,176.78 L289.5,176.82 L290,176.87 L290.5,176.91 L291,176.96 L291.5,177 L292,177.04 L292.5,177.09 L293,177.13 L293.5,177.17 L294,177.22 L294.5,177.26 L295,177.3 L295.5,177.35 L296,177.39 L296.5,177.43 L297,177.48 L297.5,177.52 L298,177.56 L298.5,177.61 L299,177.65 L299.5,177.69 L300,177.74 L300.5,177.78 L301,177.82 L301.5,177.87 L302,177.91 L302.5,177.95 L303,178 L303.5,178.04 L304,178.08 L304.5,178.13 L305,178.17 L305.5,178.21 L306,178.26 L306.5,178.3 L307,178.35 L307.5,178.39 L308,178.43 L308.5,178.48 L309,178.52 L309.5,178.57 L310,178.61 L310.5,178.66 L311,178.7 L311.5,178.75 L312,178.8 L312.5,178.84 L313,178.89 L313.5,178.94 L314,178.99 L314.5,179.04 L315,179.1 L315.5,179.15 L316,179.21 L316.5,179.26 L317,179.32 L317.5,179.38 L318,179.44 L318.5,179.5 L319,179.57 L319.5,179.63 L320,179.7 L320.5,179.76 L321,179.83 L321.5,179.9 L322,179.98 L322.5,180.05 L323,180.12 L323.5,180.2 L324,180.27 L324.5,180.35 L325,180.42 L325.5,180.5 L326,180.58 L326.5,180.66 L327,180.73 L327.5,180.81 L328,180.89 L328.5,180.97 L329,181.05 L329.5,181.13 L330,181.21 L330.5,181.28 L331,181.36 L331.5,181.44 L332,181.52 L332.5,181.59 L333,181.67 L333.5,181.74 L334,181.81 L334.5,181.88 L335,181.95 L335.5,182.02 L336,182.08 L336.5,182.15 L337,182.21 L337.5,182.27 L338,182.32 L338.5,182.37 L339,182.42 L339.5,182.47 L340,182.52 L340.5,182.56 L341,182.6 L341.5,182.63 L342,182.66 L342.5,182.69 L343,182.72 L343.5,182.75 L344,182.77 L344.5,182.79 L345,182.81 L345.5,182.82 L346,182.84 L346.5,182.85 L347,182.86 L347.5,182.87 L348,182.88 L348.5,182.89 L349,182.9 L349.5,182.91 L350,182.92 L350.5,182.92 L351,182.93 L351.5,182.94 L352,182.94 L352.5,182.95 L353,182.95 L353.5,182.96 L354,182.97 L354.5,182.97 L355,182.98 L355.5,182.98 L356,182.99 L356.5,183 L357,183 L357.5,183.01 L358,183.01 L358.5,183.02 L359,183.03 L359.5,183.03 L360,183.04 L360.5,183.04 L361,183.05 L361.5,183.06 L362,183.06 L362.5,183.07 L363,183.07 L363.5,183.08 L364,183.09 L364.5,183.09 L365,183.1 L365.5,183.1 L366,183.11 L366.5,183.12 L367,183.12 L367.5,183.13 L368,183.13 L368.5,183.14 L369,183.15 L369.5,183.15 L370,183.16 L370.5,183.16 L371,183.17 L371.5,183.17 L372,183.18 L372.5,183.19 L373,183.19 L373.5,183.2 L374,183.2 L374.5,183.21 L375,183.22 L375.5,183.22 L376,183.23 L376.5,183.23 L377,183.24 L377.5,183.24 L378,183.25 L378.5,183.25 L379,183.25 L379.5,183.26 L380,183.26 L380.5,183.27" stroke="#2a2a2a" stroke-width="0.9" fill="none"/>
<path d="M216,169.52 L216.5,169.51 L217,169.5 L217.5,169.49 L218,169.48 L218.5,169.45 L219,169.43 L219.5,169.4 L220,169.37 L220.5,169.33 L221,169.29 L221.5,169.24 L222,169.19 L222.5,169.13 L223,169.07 L223.5,169.01 L224,168.94 L224.5,168.87 L225,168.79 L225.5,168.72 L226,168.64 L226.5,168.56 L227,168.48 L227.5,168.4 L228,168.31 L228.5,168.23 L229,168.15 L229.5,168.08 L230,168 L230.5,167.93 L231,167.86 L231.5,167.8 L232,167.74 L232.5,167.69 L233,167.65 L233.5,167.61 L234,167.58 L234.5,167.56 L235,167.55 L235.5,167.55 L236,167.55 L236.5,167.57 L237,167.6 L237.5,167.64 L238,167.69 L238.5,167.75 L239,167.82 L239.5,167.9 L240,167.99 L240.5,168.09 L241,168.2 L241.5,168.32 L242,168.44 L242.5,168.58 L243,168.72 L243.5,168.86 L244,169.01 L244.5,169.17 L245,169.33 L245.5,169.49 L246,169.66 L246.5,169.83 L247,169.99 L247.5,170.16 L248,170.33 L248.5,170.5 L249,170.67 L249.5,170.84 L250,171 L250.5,171.16 L251,171.32 L251.5,171.48 L252,171.63 L252.5,171.77 L253,171.92 L253.5,172.06 L254,172.19 L254.5,172.32 L255,172.45 L255.5,172.57 L256,172.68 L256.5,172.79 L257,172.9 L257.5,173 L258,173.1 L258.5,173.19 L259,173.28 L259.5,173.37 L260,173.45 L260.5,173.53 L261,173.6 L261.5,173.67 L262,173.74 L262.5,173.8 L263,173.86 L263.5,173.92 L264,173.98 L264.5,174.03 L265,174.08 L265.5,174.12 L266,174.17 L266.5,174.21 L267,174.24 L267.5,174.27 L268,174.3 L268.5,174.32 L269,174.33 L269.5,174.33 L270,174.33 L270.5,174.31 L271,174.28 L271.5,174.24 L272,174.18 L272.5,174.1 L273,173.99 L273.5,173.86 L274,173.7 L274.5,173.51 L275,173.28 L275.5,173.01 L276,172.7 L276.5,172.35 L277,171.94 L277.5,171.49 L278,170.99 L278.5,170.43 L279,169.83 L279.5,169.17 L280,168.47 L280.5,167.73 L281,166.96 L281.5,166.15 L282,165.33 L282.5,164.49 L283,163.64 L283.5,162.81 L284,161.99 L284.5,161.2 L285,160.45 L285.5,159.75 L286,159.12 L286.5,158.55 L287,158.06 L287.5,157.65 L288,157.33 L288.5,157.1 L289,156.96 L289.5,156.9 L290,156.93 L290.5,157.03 L291,157.21 L291.5,157.45 L292,157.75 L292.5,158.1 L293,158.49 L293.5,158.92 L294,159.38 L294.5,159.86 L295,160.37 L295.5,160.89 L296,161.42 L296.5,161.96 L297,162.5 L297.5,163.05 L298,163.59 L298.5,164.13 L299,164.66 L299.5,165.19 L300,165.7 L300.5,166.2 L301,166.69 L301.5,167.17 L302,167.62 L302.5,168.06 L303,168.48 L303.5,168.88 L304,169.26 L304.5,169.62 L305,169.95 L305.5,170.26 L306,170.54 L306.5,170.78 L307,170.99 L307.5,171.15 L308,171.26 L308.5,171.31 L309,171.29 L309.5,171.19 L310,170.99 L310.5,170.68 L311,170.25 L311.5,169.67 L312,168.94 L312.5,168.02 L313,166.93 L313.5,165.63 L314,164.13 L314.5,162.43 L315,160.52 L315.5,158.44 L316,156.19 L316.5,153.8 L317,151.32 L317.5,148.79 L318,146.26 L318.5,143.79 L319,141.44 L319.5,139.26 L320,137.31 L320.5,135.64 L321,134.3 L321.5,133.32 L322,132.71 L322.5,132.48 L323,132.63 L323.5,133.12 L324,133.93 L324.5,135 L325,136.3 L325.5,137.78 L326,139.38 L326.5,141.06 L327,142.78 L327.5,144.51 L328,146.2 L328.5,147.85 L329,149.43 L329.5,150.93 L330,152.36 L330.5,153.7 L331,154.98 L331.5,156.18 L332,157.32 L332.5,158.42 L333,159.47 L333.5,160.49 L334,161.48 L334.5,162.46 L335,163.41 L335.5,164.36 L336,165.29 L336.5,166.21 L337,167.11 L337.5,168.01 L338,168.89 L338.5,169.75 L339,170.59 L339.5,171.41 L340,172.2 L340.5,172.97 L341,173.7 L341.5,174.4 L342,175.07 L342.5,175.7 L343,176.3 L343.5,176.86 L344,177.38 L344.5,177.87 L345,178.32 L345.5,178.74 L346,179.12 L346.5,179.47 L347,179.79 L347.5,180.08 L348,180.35 L348.5,180.59 L349,180.8 L349.5,181 L350,181.17 L350.5,181.33 L351,181.47 L351.5,181.6 L352,181.71 L352.5,181.81 L353,181.9 L353.5,181.98 L354,182.05 L354.5,182.11 L355,182.17 L355.5,182.22 L356,182.27 L356.5,182.31 L357,182.35 L357.5,182.39 L358,182.42 L358.5,182.45 L359,182.48 L359.5,182.5 L360,182.53 L360.5,182.55 L361,182.57 L361.5,182.59 L362,182.61 L362.5,182.63 L363,182.65 L363.5,182.67 L364,182.68" stroke="#7a28d8" stroke-width="1.5" fill="none"/>
<path d="M216,169.18 L217,168.79 L218,168.93 L219,169.26 L220,168.73 L221,169.11 L222,168.54 L223,168.79 L224,168.54 L225,168.58 L226,168.16 L227,168.59 L228,168.36 L229,167.62 L230,168.12 L231,167.39 L232,167.44 L233,167.27 L234,167.43 L235,167 L236,167.11 L237,167.47 L238,167.66 L239,167.52 L240,168.11 L241,168.19 L242,167.89 L243,168.23 L244,168.71 L245,168.78 L246,169.51 L247,169.38 L248,169.78 L249,170.05 L250,170.31 L251,171.38 L252,171.54 L253,172.01 L254,171.61 L255,172.37 L256,172.53 L257,172.49 L258,172.5 L259,172.78 L260,173.56 L261,173.72 L262,173.31 L263,173.85 L264,173.27 L265,173.66 L266,173.59 L267,174.3 L268,173.92 L269,174.27 L270,173.61 L271,174.36 L272,174.1 L273,173.55 L274,173.82 L275,172.77 L276,172.24 L277,171.2 L278,171.06 L279,169.93 L280,167.94 L281,167.07 L282,164.92 L283,163.28 L284,162.07 L285,160.42 L286,159.11 L287,157.86 L288,156.87 L289,156.91 L290,156.36 L291,156.68 L292,157.03 L293,158.03 L294,159.42 L295,159.86 L296,160.76 L297,162.39 L298,163.05 L299,164.47 L300,165.63 L301,166.54 L302,167.63 L303,168.24 L304,169.18 L305,169.43 L306,169.92 L307,170.76 L308,170.86 L309,171 L310,170.97 L311,170.39 L312,168.61 L313,166.93 L314,163.42 L315,159.88 L316,156.31 L317,151.41 L318,146.29 L319,140.92 L320,137.41 L321,134.09 L322,132.16 L323,132.01 L324,133.41 L325,136.14 L326,138.64 L327,142.64 L328,145.73 L329,149.39 L330,151.66 L331,154.58 L332,157.15 L333,158.87 L334,161.1 L335,162.94 L336,164.82 L337,166.69 L338,168.92 L339,170.17 L340,172.11 L341,172.96 L342,174.7 L343,175.91 L344,177.05 L345,177.58 L346,178.94 L347,179.12 L348,179.93 L349,180.19 L350,180.89 L351,180.82 L352,181.68 L353,181.33 L354,182.15 L355,181.86 L356,182.35 L357,182.42 L358,182.41 L359,182.43 L360,182.14 L361,182.57 L362,182.06 L363,182.37 L364,182.04" stroke="#666" stroke-width="0.6" stroke-opacity="0.55" fill="none"/>
<path d="M272.5,174.71 L273,174.64 L273.5,174.55 L274,174.43 L274.5,174.28 L275,174.1 L275.5,173.89 L276,173.64 L276.5,173.36 L277,173.04 L277.5,172.67 L278,172.27 L278.5,171.83 L279,171.34 L279.5,170.82 L280,170.27 L280.5,169.69 L281,169.09 L281.5,168.47 L282,167.85 L282.5,167.23 L283,166.63 L283.5,166.04 L284,165.5 L284.5,164.99 L285,164.55 L285.5,164.17 L286,163.86 L286.5,163.64 L287,163.5 L287.5,163.46 L288,163.51 L288.5,163.66 L289,163.9 L289.5,164.23 L290,164.64 L290.5,165.12 L291,165.67 L291.5,166.27 L292,166.91 L292.5,167.58 L293,168.28 L293.5,168.99 L294,169.7 L294.5,170.4 L295,171.09 L295.5,171.75 L296,172.38 L296.5,172.98 L297,173.55 L297.5,174.07 L298,174.56 L298.5,175 L299,175.41 L299.5,175.77 L300,176.1 L300.5,176.39 L301,176.65 L301.5,176.88 L302,177.09 L302.5,177.27 L303,177.43" stroke="#1a1aff" stroke-width="1.2" fill="none"/>
<path d="M307.5,177.85 L308,177.76 L308.5,177.64 L309,177.46 L309.5,177.22 L310,176.92 L310.5,176.52 L311,176.03 L311.5,175.42 L312,174.68 L312.5,173.8 L313,172.76 L313.5,171.56 L314,170.19 L314.5,168.66 L315,166.97 L315.5,165.14 L316,163.19 L316.5,161.14 L317,159.05 L317.5,156.94 L318,154.88 L318.5,152.92 L319,151.12 L319.5,149.52 L320,148.2 L320.5,147.18 L321,146.52 L321.5,146.24 L322,146.35 L322.5,146.85 L323,147.73 L323.5,148.95 L324,150.48 L324.5,152.26 L325,154.24 L325.5,156.36 L326,158.57 L326.5,160.82 L327,163.04 L327.5,165.2 L328,167.27 L328.5,169.21 L329,171 L329.5,172.63 L330,174.09 L330.5,175.38 L331,176.51 L331.5,177.49 L332,178.33 L332.5,179.03 L333,179.63 L333.5,180.12 L334,180.53 L334.5,180.87 L335,181.15 L335.5,181.38 L336,181.57" stroke="#1a1aff" stroke-width="1.2" fill="none"/>
<path d="M273.5,174.89 L274,174.89 L274.5,174.9 L275,174.89 L275.5,174.88 L276,174.86 L276.5,174.84 L277,174.81 L277.5,174.77 L278,174.71 L278.5,174.65 L279,174.58 L279.5,174.49 L280,174.39 L280.5,174.28 L281,174.15 L281.5,174.01 L282,173.85 L282.5,173.68 L283,173.49 L283.5,173.29 L284,173.07 L284.5,172.83 L285,172.58 L285.5,172.31 L286,172.03 L286.5,171.73 L287,171.43 L287.5,171.11 L288,170.79 L288.5,170.46 L289,170.13 L289.5,169.79 L290,169.46 L290.5,169.14 L291,168.82 L291.5,168.51 L292,168.22 L292.5,167.95 L293,167.7 L293.5,167.49 L294,167.3 L294.5,167.14 L295,167.03 L295.5,166.95 L296,166.92 L296.5,166.93 L297,166.99 L297.5,167.09 L298,167.24 L298.5,167.42 L299,167.65 L299.5,167.91 L300,168.2 L300.5,168.53 L301,168.88 L301.5,169.24 L302,169.63 L302.5,170.03 L303,170.44 L303.5,170.86 L304,171.28 L304.5,171.7 L305,172.12 L305.5,172.53 L306,172.94 L306.5,173.33 L307,173.72 L307.5,174.09 L308,174.45 L308.5,174.8 L309,175.13 L309.5,175.45 L310,175.75 L310.5,176.03 L311,176.3 L311.5,176.56 L312,176.8 L312.5,177.02 L313,177.23 L313.5,177.43 L314,177.62 L314.5,177.79 L315,177.96 L315.5,178.11 L316,178.26 L316.5,178.4 L317,178.53 L317.5,178.65 L318,178.77 L318.5,178.89 L319,179 L319.5,179.1" stroke="#ff1a1a" stroke-width="1.2" fill="none"/>
<path d="M302.5,177.44 L303,177.46 L303.5,177.47 L304,177.48 L304.5,177.49 L305,177.49 L305.5,177.48 L306,177.47 L306.5,177.45 L307,177.42 L307.5,177.39 L308,177.34 L308.5,177.28 L309,177.21 L309.5,177.12 L310,177.02 L310.5,176.9 L311,176.77 L311.5,176.61 L312,176.43 L312.5,176.23 L313,176 L313.5,175.75 L314,175.46 L314.5,175.15 L315,174.81 L315.5,174.44 L316,174.03 L316.5,173.59 L317,173.13 L317.5,172.62 L318,172.09 L318.5,171.53 L319,170.94 L319.5,170.32 L320,169.68 L320.5,169.01 L321,168.33 L321.5,167.64 L322,166.94 L322.5,166.23 L323,165.53 L323.5,164.83 L324,164.15 L324.5,163.49 L325,162.86 L325.5,162.27 L326,161.71 L326.5,161.21 L327,160.77 L327.5,160.4 L328,160.09 L328.5,159.87 L329,159.73 L329.5,159.67 L330,159.71 L330.5,159.83 L331,160.04 L331.5,160.34 L332,160.72 L332.5,161.18 L333,161.7 L333.5,162.3 L334,162.95 L334.5,163.65 L335,164.39 L335.5,165.16 L336,165.97 L336.5,166.78 L337,167.62 L337.5,168.45 L338,169.28 L338.5,170.11 L339,170.93 L339.5,171.72 L340,172.5 L340.5,173.25 L341,173.97 L341.5,174.66 L342,175.32 L342.5,175.94 L343,176.53 L343.5,177.08 L344,177.6 L344.5,178.07 L345,178.52 L345.5,178.93 L346,179.31 L346.5,179.65 L347,179.97 L347.5,180.26 L348,180.52 L348.5,180.75 L349,180.97 L349.5,181.16 L350,181.33 L350.5,181.48 L351,181.62 L351.5,181.74 L352,181.85 L352.5,181.95 L353,182.03 L353.5,182.11 L354,182.18 L354.5,182.24 L355,182.29 L355.5,182.34 L356,182.39 L356.5,182.43 L357,182.47 L357.5,182.5" stroke="#ff1a1a" stroke-width="1.2" fill="none"/>
<path d="M216,209.24 L217,209.37 L218,209.47 L219,209.24 L220,209.24 L221,209.68 L222,209.59 L223,209.46 L224,208.92 L225,209.22 L226,209.64 L227,209.51 L228,208.79 L229,209.48 L230,209.62 L231,209.53 L232,209.22 L233,208.92 L234,209.22 L235,208.74 L236,208.87 L237,209.38 L238,208.87 L239,208.81 L240,209.33 L241,209.56 L242,209.26 L243,208.78 L244,209.3 L245,209.47 L246,209.65 L247,209.02 L248,209.09 L249,209.39 L250,209.46 L251,209.27 L252,209.21 L253,208.93 L254,208.64 L255,209.21 L256,209.1 L257,208.71 L258,209.22 L259,208.56 L260,208.65 L261,208.75 L262,209.1 L263,209.12 L264,208.62 L265,208.71 L266,208.54 L267,209.3 L268,208.81 L269,208.39 L270,208.92 L271,208.98 L272,209.24 L273,208.53 L274,208.29 L275,208.62 L276,208.24 L277,208.16 L278,209.06 L279,208.3 L280,208.58 L281,208.87 L282,208.35 L283,208.08 L284,208.79 L285,207.99 L286,208.69 L287,208.63 L288,208.04 L289,207.94 L290,207.9 L291,208.07 L292,207.85 L293,207.39 L294,207.26 L295,206.31 L296,206.49 L297,205.82 L298,204.55 L299,204.31 L300,203.55 L301,202.88 L302,201.42 L303,200.99 L304,200.22 L305,199.25 L306,198.75 L307,197.8 L308,197.3 L309,196.35 L310,195.67 L311,195.26 L312,194.84 L313,194.82 L314,194.41 L315,195.2 L316,195.62 L317,196.16 L318,198.25 L319,200.82 L320,202.17 L321,204.84 L322,205.42 L323,206.34 L324,207.57 L325,207.53 L326,207.5 L327,206.81 L328,207.25 L329,206.58 L330,206.02 L331,206.01 L332,205.8 L333,206.05 L334,205.55 L335,204.29 L336,204.2 L337,203.59 L338,203.23 L339,203.02 L340,202.46 L341,201.14 L342,201.41 L343,200.09 L344,199.87 L345,198.59 L346,197.5 L347,195.97 L348,194.68 L349,194.42 L350,194.24 L351,196.57 L352,202.34 L353,208.6 L354,214.15 L355,218.88 L356,221.49 L357,222.23 L358,223.62 L359,223.45 L360,223.48 L361,223.88 L362,224.17 L363,223.8 L364,223.64 L365,224.17 L366,223.7 L367,224.33 L368,223.71 L369,224.49 L370,223.82 L371,224.35 L372,223.82 L373,223.94 L374,224.23 L375,224.06 L376,224.73 L377,223.88 L378,223.9 L379,224.8 L380,224.56" stroke="#4a3ad8" stroke-width="1.3" fill="none"/>
<path d="M216,209.41 L216.5,209.41 L217,209.41 L217.5,209.41 L218,209.41 L218.5,209.41 L219,209.42 L219.5,209.42 L220,209.42 L220.5,209.42 L221,209.42 L221.5,209.42 L222,209.42 L222.5,209.43 L223,209.43 L223.5,209.43 L224,209.43 L224.5,209.43 L225,209.43 L225.5,209.43 L226,209.44 L226.5,209.44 L227,209.44 L227.5,209.44 L228,209.44 L228.5,209.44 L229,209.45 L229.5,209.45 L230,209.45 L230.5,209.45 L231,209.45 L231.5,209.45 L232,209.45 L232.5,209.46 L233,209.46 L233.5,209.46 L234,209.46 L234.5,209.46 L235,209.46 L235.5,209.47 L236,209.47 L236.5,209.47 L237,209.47 L237.5,209.47 L238,209.47 L238.5,209.47 L239,209.48 L239.5,209.48 L240,209.48 L240.5,209.48 L241,209.48 L241.5,209.48 L242,209.48 L242.5,209.49 L243,209.49 L243.5,209.49 L244,209.49 L244.5,209.49 L245,209.49 L245.5,209.5 L246,209.5 L246.5,209.5 L247,209.5 L247.5,209.5 L248,209.5 L248.5,209.5 L249,209.51 L249.5,209.51 L250,209.51 L250.5,209.51 L251,209.51 L251.5,209.51 L252,209.52 L252.5,209.52 L253,209.52 L253.5,209.52 L254,209.52 L254.5,209.52 L255,209.52 L255.5,209.53 L256,209.53 L256.5,209.53 L257,209.53 L257.5,209.53 L258,209.53 L258.5,209.53 L259,209.54 L259.5,209.54 L260,209.54 L260.5,209.54 L261,209.54 L261.5,209.54 L262,209.55 L262.5,209.55 L263,209.55 L263.5,209.55 L264,209.55 L264.5,209.55 L265,209.55 L265.5,209.56 L266,209.56 L266.5,209.56 L267,209.56 L267.5,209.56 L268,209.56 L268.5,209.57 L269,209.57 L269.5,209.57 L270,209.57 L270.5,209.57 L271,209.57 L271.5,209.57 L272,209.58 L272.5,209.58 L273,209.58 L273.5,209.58 L274,209.58 L274.5,209.58 L275,209.59 L275.5,209.59 L276,209.59 L276.5,209.6 L277,209.61 L277.5,209.61 L278,209.62 L278.5,209.63 L279,209.64 L279.5,209.66 L280,209.68 L280.5,209.7 L281,209.72 L281.5,209.74 L282,209.77 L282.5,209.79 L283,209.82 L283.5,209.85 L284,209.88 L284.5,209.92 L285,209.95 L285.5,209.98 L286,210.02 L286.5,210.05 L287,210.08 L287.5,210.12 L288,210.15 L288.5,210.19 L289,210.22 L289.5,210.26 L290,210.29 L290.5,210.33 L291,210.36 L291.5,210.39 L292,210.43 L292.5,210.46 L293,210.5 L293.5,210.53 L294,210.57 L294.5,210.6 L295,210.64 L295.5,210.67 L296,210.71 L296.5,210.74 L297,210.77 L297.5,210.81 L298,210.84 L298.5,210.88 L299,210.91 L299.5,210.95 L300,210.98 L300.5,211.01 L301,211.05 L301.5,211.08 L302,211.11 L302.5,211.14 L303,211.17 L303.5,211.2 L304,211.23 L304.5,211.26 L305,211.28 L305.5,211.31 L306,211.33 L306.5,211.36 L307,211.38 L307.5,211.4 L308,211.42 L308.5,211.44 L309,211.46 L309.5,211.48 L310,211.5 L310.5,211.52 L311,211.54 L311.5,211.56 L312,211.58 L312.5,211.6 L313,211.61 L313.5,211.63 L314,211.65 L314.5,211.67 L315,211.69 L315.5,211.71 L316,211.73 L316.5,211.74 L317,211.76 L317.5,211.78 L318,211.8 L318.5,211.82 L319,211.84 L319.5,211.86 L320,211.88 L320.5,211.9 L321,211.92 L321.5,211.95 L322,211.98 L322.5,212.01 L323,212.05 L323.5,212.09 L324,212.14 L324.5,212.2 L325,212.26 L325.5,212.33 L326,212.42 L326.5,212.51 L327,212.61 L327.5,212.72 L328,212.84 L328.5,212.97 L329,213.1 L329.5,213.24 L330,213.39 L330.5,213.54 L331,213.69 L331.5,213.85 L332,214.01 L332.5,214.18 L333,214.34 L333.5,214.52 L334,214.69 L334.5,214.87 L335,215.05 L335.5,215.23 L336,215.42 L336.5,215.6 L337,215.79 L337.5,215.98 L338,216.17 L338.5,216.37 L339,216.56 L339.5,216.76 L340,216.95 L340.5,217.15 L341,217.34 L341.5,217.54 L342,217.73 L342.5,217.93 L343,218.12 L343.5,218.32 L344,218.52 L344.5,218.71 L345,218.91 L345.5,219.1 L346,219.3 L346.5,219.5 L347,219.69 L347.5,219.89 L348,220.09 L348.5,220.29 L349,220.49 L349.5,220.69 L350,220.89 L350.5,221.1 L351,221.3 L351.5,221.5 L352,221.7 L352.5,221.9 L353,222.09 L353.5,222.29 L354,222.47 L354.5,222.65 L355,222.82 L355.5,222.98 L356,223.13 L356.5,223.26 L357,223.39 L357.5,223.5 L358,223.59 L358.5,223.68 L359,223.75 L359.5,223.81 L360,223.86 L360.5,223.9 L361,223.93 L361.5,223.96 L362,223.98 L362.5,224 L363,224.01 L363.5,224.02 L364,224.04 L364.5,224.05 L365,224.06 L365.5,224.07 L366,224.08 L366.5,224.09 L367,224.1 L367.5,224.11 L368,224.12 L368.5,224.13 L369,224.14 L369.5,224.15 L370,224.16 L370.5,224.17 L371,224.18 L371.5,224.19 L372,224.2 L372.5,224.21 L373,224.22 L373.5,224.23 L374,224.24 L374.5,224.25 L375,224.26 L375.5,224.27 L376,224.28 L376.5,224.29 L377,224.3 L377.5,224.31 L378,224.32 L378.5,224.33 L379,224.34 L379.5,224.34 L380,224.35 L380.5,224.36" stroke="#1a1aff" stroke-width="1.3" fill="none"/>
<path d="M296.4,209.8 L305,211.6 L322.7,213.7 L334.2,216.2 L349,219.8 L356,222.5 L360,223.6" stroke="#222" stroke-width="1" fill="none"/>
<path d="M253.5,209.22 L254,209.21 L254.5,209.21 L255,209.21 L255.5,209.2 L256,209.2 L256.5,209.2 L257,209.19 L257.5,209.19 L258,209.18 L258.5,209.18 L259,209.17 L259.5,209.17 L260,209.16 L260.5,209.16 L261,209.15 L261.5,209.15 L262,209.14 L262.5,209.14 L263,209.13 L263.5,209.12 L264,209.12 L264.5,209.11 L265,209.1 L265.5,209.1 L266,209.09 L266.5,209.08 L267,209.07 L267.5,209.06 L268,209.06 L268.5,209.05 L269,209.04 L269.5,209.03 L270,209.02 L270.5,209.01 L271,209 L271.5,208.99 L272,208.97 L272.5,208.96 L273,208.95 L273.5,208.94 L274,208.93 L274.5,208.91 L275,208.9 L275.5,208.89 L276,208.87 L276.5,208.86 L277,208.85 L277.5,208.84 L278,208.83 L278.5,208.82 L279,208.81 L279.5,208.8 L280,208.79 L280.5,208.79 L281,208.79 L281.5,208.78 L282,208.78 L282.5,208.78 L283,208.78 L283.5,208.78 L284,208.78 L284.5,208.78 L285,208.78 L285.5,208.78 L286,208.77 L286.5,208.77 L287,208.76 L287.5,208.76 L288,208.75 L288.5,208.73 L289,208.72 L289.5,208.7 L290,208.68 L290.5,208.66 L291,208.63 L291.5,208.61 L292,208.58 L292.5,208.54 L293,208.5 L293.5,208.46 L294,208.41 L294.5,208.36 L295,208.3 L295.5,208.24 L296,208.17 L296.5,208.1 L297,208.02 L297.5,207.93 L298,207.84 L298.5,207.74 L299,207.63 L299.5,207.51 L300,207.38 L300.5,207.23 L301,207.08 L301.5,206.92 L302,206.74 L302.5,206.55 L303,206.34 L303.5,206.12 L304,205.88 L304.5,205.62 L305,205.34 L305.5,205.05 L306,204.73 L306.5,204.4 L307,204.05 L307.5,203.68 L308,203.29 L308.5,202.89 L309,202.47 L309.5,202.05 L310,201.61 L310.5,201.18 L311,200.76 L311.5,200.35 L312,199.95 L312.5,199.59 L313,199.27 L313.5,198.99 L314,198.77 L314.5,198.61 L315,198.53 L315.5,198.51 L316,198.64 L316.5,199.01 L317,199.58 L317.5,200.33 L318,201.23 L318.5,202.24 L319,203.3 L319.5,204.39 L320,205.46 L320.5,206.48 L321,207.43 L321.5,208.28 L322,209.04 L322.5,209.7 L323,210.27 L323.5,210.74 L324,211.13 L324.5,211.46 L325,211.73 L325.5,211.96" stroke="#111" stroke-width="1.2" fill="none"/>
<path d="M296,210.4 L296.5,210.43 L297,210.46 L297.5,210.49 L298,210.52 L298.5,210.55 L299,210.57 L299.5,210.6 L300,210.63 L300.5,210.65 L301,210.68 L301.5,210.7 L302,210.73 L302.5,210.75 L303,210.77 L303.5,210.8 L304,210.82 L304.5,210.83 L305,210.85 L305.5,210.87 L306,210.88 L306.5,210.89 L307,210.91 L307.5,210.92 L308,210.93 L308.5,210.93 L309,210.94 L309.5,210.95 L310,210.96 L310.5,210.96 L311,210.97 L311.5,210.97 L312,210.97 L312.5,210.98 L313,210.98 L313.5,210.98 L314,210.98 L314.5,210.98 L315,210.98 L315.5,210.98 L316,210.98 L316.5,210.98 L317,210.97 L317.5,210.97 L318,210.96 L318.5,210.96 L319,210.95 L319.5,210.94 L320,210.93 L320.5,210.92 L321,210.91 L321.5,210.91 L322,210.9 L322.5,210.89 L323,210.89 L323.5,210.89 L324,210.9 L324.5,210.91 L325,210.93 L325.5,210.95 L326,210.98 L326.5,211.01 L327,211.05 L327.5,211.1 L328,211.15 L328.5,211.2 L329,211.26 L329.5,211.32 L330,211.38 L330.5,211.43 L331,211.49 L331.5,211.54 L332,211.59 L332.5,211.63 L333,211.67 L333.5,211.7 L334,211.72 L334.5,211.74 L335,211.74 L335.5,211.73 L336,211.71 L336.5,211.67 L337,211.62 L337.5,211.54 L338,211.44 L338.5,211.32 L339,211.17 L339.5,210.99 L340,210.77 L340.5,210.51 L341,210.22 L341.5,209.87 L342,209.47 L342.5,209.02 L343,208.51 L343.5,207.94 L344,207.31 L344.5,206.61 L345,205.86 L345.5,205.05 L346,204.2 L346.5,203.33 L347,202.47 L347.5,201.64 L348,200.89 L348.5,200.26 L349,199.8 L349.5,199.54 L350,199.51 L350.5,199.84 L351,200.93 L351.5,202.72 L352,205.03 L352.5,207.67 L353,210.41 L353.5,213.05 L354,215.45 L354.5,217.51 L355,219.2 L355.5,220.53 L356,221.53 L356.5,222.26 L357,222.78 L357.5,223.15" stroke="#111" stroke-width="1.2" fill="none"/>
<path d="M289.5,209.95 L290,209.93 L290.5,209.9 L291,209.87 L291.5,209.83 L292,209.77 L292.5,209.7 L293,209.63 L293.5,209.53 L294,209.43 L294.5,209.31 L295,209.18 L295.5,209.04 L296,208.88 L296.5,208.71 L297,208.53 L297.5,208.34 L298,208.14 L298.5,207.93 L299,207.72 L299.5,207.5 L300,207.28 L300.5,207.07 L301,206.85 L301.5,206.65 L302,206.46 L302.5,206.28 L303,206.12 L303.5,205.97 L304,205.85 L304.5,205.76 L305,205.69 L305.5,205.65 L306,205.64 L306.5,205.66 L307,205.71 L307.5,205.79 L308,205.9 L308.5,206.04 L309,206.2 L309.5,206.39 L310,206.6 L310.5,206.82 L311,207.06 L311.5,207.32 L312,207.58 L312.5,207.85 L313,208.12 L313.5,208.39 L314,208.65 L314.5,208.92 L315,209.17 L315.5,209.42 L316,209.66 L316.5,209.88 L317,210.09 L317.5,210.29 L318,210.48 L318.5,210.65 L319,210.81 L319.5,210.96 L320,211.1 L320.5,211.22 L321,211.34 L321.5,211.44 L322,211.54 L322.5,211.64 L323,211.73" stroke="#ff1a1a" stroke-width="1.2" fill="none"/>
<path d="M327.5,212.38 L328,212.43 L328.5,212.46 L329,212.49 L329.5,212.51 L330,212.51 L330.5,212.5 L331,212.47 L331.5,212.41 L332,212.34 L332.5,212.24 L333,212.12 L333.5,211.98 L334,211.81 L334.5,211.64 L335,211.44 L335.5,211.24 L336,211.04 L336.5,210.83 L337,210.63 L337.5,210.45 L338,210.29 L338.5,210.16 L339,210.06 L339.5,210.01 L340,210 L340.5,210.05 L341,210.15 L341.5,210.3 L342,210.51 L342.5,210.77 L343,211.07 L343.5,211.41 L344,211.76 L344.5,212.12 L345,212.47 L345.5,212.82 L346,213.13 L346.5,213.43 L347,213.72 L347.5,214 L348,214.31 L348.5,214.66 L349,215.07 L349.5,215.55 L350,216.12 L350.5,216.76 L351,217.45 L351.5,218.16 L352,218.88 L352.5,219.57 L353,220.21 L353.5,220.79 L354,221.31 L354.5,221.76 L355,222.14 L355.5,222.46 L356,222.73 L356.5,222.96" stroke="#ff1a1a" stroke-width="1.2" fill="none"/>
<path d="M242,209.18 L242.5,209.18 L243,209.18 L243.5,209.18 L244,209.17 L244.5,209.17 L245,209.17 L245.5,209.17 L246,209.16 L246.5,209.16 L247,209.16 L247.5,209.15 L248,209.15 L248.5,209.15 L249,209.14 L249.5,209.14 L250,209.14 L250.5,209.13 L251,209.13 L251.5,209.13 L252,209.12 L252.5,209.12 L253,209.11 L253.5,209.11 L254,209.11 L254.5,209.1 L255,209.1 L255.5,209.09 L256,209.09 L256.5,209.08 L257,209.08 L257.5,209.07 L258,209.06 L258.5,209.06 L259,209.05 L259.5,209.05 L260,209.04 L260.5,209.03 L261,209.03 L261.5,209.02 L262,209.01 L262.5,209 L263,209 L263.5,208.99 L264,208.98 L264.5,208.97 L265,208.96 L265.5,208.95 L266,208.95 L266.5,208.94 L267,208.93 L267.5,208.92 L268,208.9 L268.5,208.89 L269,208.88 L269.5,208.87 L270,208.86 L270.5,208.85 L271,208.83 L271.5,208.82 L272,208.81 L272.5,208.79 L273,208.78 L273.5,208.76 L274,208.75 L274.5,208.73 L275,208.72 L275.5,208.7 L276,208.68 L276.5,208.67 L277,208.65 L277.5,208.64 L278,208.62 L278.5,208.61 L279,208.6 L279.5,208.59 L280,208.58 L280.5,208.57 L281,208.56 L281.5,208.55 L282,208.54 L282.5,208.54 L283,208.53 L283.5,208.52 L284,208.51 L284.5,208.5 L285,208.48 L285.5,208.47 L286,208.45 L286.5,208.42 L287,208.39 L287.5,208.35 L288,208.31 L288.5,208.26 L289,208.21 L289.5,208.14 L290,208.06 L290.5,207.97 L291,207.88 L291.5,207.76 L292,207.64 L292.5,207.5 L293,207.34 L293.5,207.17 L294,206.98 L294.5,206.77 L295,206.54 L295.5,206.29 L296,206.03 L296.5,205.75 L297,205.44 L297.5,205.12 L298,204.79 L298.5,204.44 L299,204.07 L299.5,203.69 L300,203.3 L300.5,202.9 L301,202.5 L301.5,202.09 L302,201.68 L302.5,201.27 L303,200.86 L303.5,200.45 L304,200.06 L304.5,199.66 L305,199.28 L305.5,198.91 L306,198.55 L306.5,198.2 L307,197.87 L307.5,197.54 L308,197.23 L308.5,196.92 L309,196.63 L309.5,196.36 L310,196.09 L310.5,195.85 L311,195.62 L311.5,195.41 L312,195.23 L312.5,195.08 L313,194.97 L313.5,194.9 L314,194.88 L314.5,194.92 L315,195 L315.5,195.15 L316,195.43 L316.5,195.91 L317,196.59 L317.5,197.43 L318,198.38 L318.5,199.42 L319,200.5 L319.5,201.57 L320,202.6 L320.5,203.56 L321,204.42 L321.5,205.18 L322,205.81 L322.5,206.33 L323,206.73 L323.5,207.02 L324,207.22 L324.5,207.34 L325,207.4 L325.5,207.4 L326,207.36 L326.5,207.3 L327,207.21 L327.5,207.11 L328,207 L328.5,206.88 L329,206.76 L329.5,206.63 L330,206.5 L330.5,206.37 L331,206.23 L331.5,206.08 L332,205.93 L332.5,205.77 L333,205.59 L333.5,205.4 L334,205.2 L334.5,204.99 L335,204.76 L335.5,204.52 L336,204.27 L336.5,204.01 L337,203.74 L337.5,203.47 L338,203.19 L338.5,202.92 L339,202.66 L339.5,202.39 L340,202.14 L340.5,201.89 L341,201.64 L341.5,201.4 L342,201.15 L342.5,200.88 L343,200.59 L343.5,200.26 L344,199.88 L344.5,199.43 L345,198.91 L345.5,198.31 L346,197.65 L346.5,196.94 L347,196.2 L347.5,195.51 L348,194.9 L348.5,194.45 L349,194.22 L349.5,194.27 L350,194.63 L350.5,195.41 L351,196.99 L351.5,199.3 L352,202.15 L352.5,205.28 L353,208.47 L353.5,211.51 L354,214.24 L354.5,216.58 L355,218.49 L355.5,219.98 L356,221.11 L356.5,221.93 L357,222.52 L357.5,222.93 L358,223.22" stroke="#7a28d8" stroke-width="1.5" fill="none"/>
<path d="M216,233.79 L217,234.68 L218,233.61 L219,233.81 L220,234.18 L221,233.47 L222,234.2 L223,234.98 L224,234.79 L225,234.4 L226,234.66 L227,234.33 L228,233.68 L229,234.61 L230,234.21 L231,234.88 L232,235.22 L233,234.26 L234,234.55 L235,234.9 L236,234.24 L237,233.86 L238,234.84 L239,235.16 L240,234.95 L241,234.8 L242,235.1 L243,234.76 L244,234.68 L245,234.31 L246,234.03 L247,234.66 L248,233.6 L249,234.24 L250,234.96 L251,234.83 L252,234.66 L253,233.9 L254,234.25 L255,234.31 L256,234.64 L257,234.22 L258,234.75 L259,235.26 L260,233.77 L261,234.71 L262,234.96 L263,234.18 L264,234.38 L265,235.35 L266,233.48 L267,234.49 L268,233.72 L269,234.96 L270,235.28 L271,234.44 L272,233.6 L273,234.55 L274,234.48 L275,234.83 L276,234.42 L277,234.68 L278,235.06 L279,234.44 L280,234.22 L281,235.3 L282,233.82 L283,234.77 L284,234.18 L285,234.92 L286,233.64 L287,235.37 L288,234.11 L289,233.51 L290,233.95 L291,234.19 L292,233.42 L293,234.23 L294,234.23 L295,234.78 L296,234.09 L297,233.91 L298,233.83 L299,234.85 L300,235.24 L301,234.41 L302,233.78 L303,234.94 L304,234.11 L305,233.73 L306,233.55 L307,234.82 L308,234.86 L309,234.48 L310,234.12 L311,234.27 L312,233.56 L313,234.99 L314,233.72 L315,234.23 L316,234.53 L317,234.46 L318,233.7 L319,233.27 L320,233.7 L321,232.77 L322,234.09 L323,233.04 L324,233.94 L325,232.67 L326,232.78 L327,232.44 L328,232.68 L329,232.1 L330,231.63 L331,232.97 L332,232 L333,231.84 L334,231.88 L335,232.17 L336,232 L337,232.37 L338,232.37 L339,231.75 L340,232.86 L341,232.71 L342,231.12 L343,232.68 L344,232.87 L345,232.66 L346,231.43 L347,232.87 L348,232.54 L349,231.38 L350,231.46 L351,233.43 L352,232.94 L353,232.23 L354,232.03 L355,232.22 L356,232.5 L357,233.69 L358,232.93 L359,232.64 L360,234.23 L361,234.1 L362,232.94 L363,234.47 L364,233.98 L365,234.39 L366,234.23 L367,234.74 L368,234.59 L369,234.74 L370,233.5 L371,234.53 L372,234.24 L373,234.7 L374,234.12 L375,235.03 L376,234.4 L377,233.83 L378,233.79 L379,233.61 L380,234.33" stroke="#7a7a7a" stroke-width="1.2" fill="none"/>
<path d="M320.8,17.5V169.7L326,173.4V221.7" stroke="#2020ff" stroke-width="1.1" fill="none"/>
<rect x="215" y="0.6" width="166.8" height="244.0" stroke="#000" stroke-width="2" fill="none"/>
<path d="M215,240.45h2.5M381.8,240.45h-2.5M215,221.3h4M381.8,221.3h-4M215,202.15h2.5M381.8,202.15h-2.5M215,183h4M381.8,183h-4M215,163.85h2.5M381.8,163.85h-2.5M215,144.7h4M381.8,144.7h-4M215,125.55h2.5M381.8,125.55h-2.5M215,106.4h4M381.8,106.4h-4M215,87.25h2.5M381.8,87.25h-2.5M215,68.1h4M381.8,68.1h-4M215,48.95h2.5M381.8,48.95h-2.5M215,29.8h4M381.8,29.8h-4M215,10.65h2.5M381.8,10.65h-2.5M230.2,244.6v-4.5M230.2,0.6v4.5M249.07,244.6v-3M249.07,0.6v3M267.95,244.6v-4.5M267.95,0.6v4.5M286.82,244.6v-3M286.82,0.6v3M305.7,244.6v-4.5M305.7,0.6v4.5M324.57,244.6v-3M324.57,0.6v3M343.45,244.6v-4.5M343.45,0.6v4.5M362.32,244.6v-3M362.32,0.6v3" stroke="#000" stroke-width="1.6" fill="none"/>
<text transform="translate(213,224.7) scale(1,1.1)" font-family="Liberation Sans, sans-serif" font-weight="bold" font-size="10.5" text-anchor="end">4k</text>
<text transform="translate(213,186.4) scale(1,1.1)" font-family="Liberation Sans, sans-serif" font-weight="bold" font-size="10.5" text-anchor="end">6k</text>
<text transform="translate(213,148.1) scale(1,1.1)" font-family="Liberation Sans, sans-serif" font-weight="bold" font-size="10.5" text-anchor="end">8k</text>
<text transform="translate(213,109.8) scale(1,1.1)" font-family="Liberation Sans, sans-serif" font-weight="bold" font-size="10.5" text-anchor="end">10k</text>
<text transform="translate(213,71.5) scale(1,1.1)" font-family="Liberation Sans, sans-serif" font-weight="bold" font-size="10.5" text-anchor="end">12k</text>
<text transform="translate(213,33.2) scale(1,1.1)" font-family="Liberation Sans, sans-serif" font-weight="bold" font-size="10.5" text-anchor="end">14k</text>
<text transform="translate(230.5,256.9) scale(1,1.1)" font-family="Liberation Sans, sans-serif" font-weight="bold" font-size="9.9" text-anchor="middle">415</text>
<text transform="translate(268.25,256.9) scale(1,1.1)" font-family="Liberation Sans, sans-serif" font-weight="bold" font-size="9.9" text-anchor="middle">410</text>
<text transform="translate(306,256.9) scale(1,1.1)" font-family="Liberation Sans, sans-serif" font-weight="bold" font-size="9.9" text-anchor="middle">405</text>
<text transform="translate(343.75,256.9) scale(1,1.1)" font-family="Liberation Sans, sans-serif" font-weight="bold" font-size="9.9" text-anchor="middle">400</text>
<text transform="translate(381.5,256.9) scale(1,1.1)" font-family="Liberation Sans, sans-serif" font-weight="bold" font-size="9.9" text-anchor="middle">395</text>
<text x="298.6" y="268.3" font-family="Liberation Sans, sans-serif" font-weight="bold" font-size="12.6" text-anchor="middle">Binding Energy (eV)</text>
<text transform="translate(195.3,126.6) rotate(-90)" font-family="Liberation Sans, sans-serif" font-weight="bold" font-size="12.4" text-anchor="middle">Intensity (cts/s)</text>
<text x="189.4" y="13.9" font-family="Liberation Sans, sans-serif" font-weight="bold" font-size="14.6">b)</text>
<rect x="214.3" y="0.9" width="44.7" height="19.4" fill="#000"/>
<text x="218.8" y="15.2" font-family="Liberation Sans, sans-serif" font-weight="bold" font-size="14.1" fill="#fff">Sc 2<tspan font-style="italic">p</tspan></text>
<text x="220.2" y="47.8" font-family="Liberation Sans, sans-serif" font-weight="bold" font-style="italic" font-size="9.6">T<tspan dy="3" font-size="5.8">a</tspan><tspan dy="-3">=400°C</tspan></text>
<text x="220.9" y="104.1" font-family="Liberation Sans, sans-serif" font-weight="bold" font-style="italic" font-size="9.6">T<tspan dy="3" font-size="5.8">a</tspan><tspan dy="-3">=300°C</tspan></text>
<text x="222.4" y="160.5" font-family="Liberation Sans, sans-serif" font-weight="bold" font-style="italic" font-size="9.6">T<tspan dy="3" font-size="5.8">a</tspan><tspan dy="-3">=200°C</tspan></text>
<text x="225.7" y="203.8" font-family="Liberation Sans, sans-serif" font-weight="bold" font-style="italic" font-size="8.9">t=5.9 nm</text>
<text x="225.7" y="227.7" font-family="Liberation Sans, sans-serif" font-weight="bold" font-style="italic" font-size="8.75">As-Exfoliated</text>
<text x="301.8" y="14.8" font-family="Liberation Sans, sans-serif" font-weight="bold" font-size="9.3" fill="#2020ff">Sc<tspan dy="3" font-size="7">x</tspan><tspan dy="-3">O</tspan><tspan dy="3" font-size="7">y</tspan></text>
<text x="331" y="27.3" font-family="Liberation Sans, sans-serif" font-weight="bold" font-size="9.3" fill="#ff1a1a">ScSe<tspan dy="3" font-size="7">x</tspan></text>
<text x="335" y="41.4" font-family="Liberation Sans, sans-serif" font-weight="bold" font-size="9" fill="#888">ScN</text>
<text x="360.5" y="45.6" font-family="Liberation Sans, sans-serif" font-weight="bold" font-size="9" fill="#888">NSc</text>
<text x="360" y="55.3" font-family="Liberation Sans, sans-serif" font-weight="bold" font-size="5.8" fill="#888">(N 1s)</text>
<text x="348.6" y="66.3" font-family="Liberation Sans, sans-serif" font-weight="bold" font-size="9" fill="#888">ScC</text>
<text x="341.3" y="155.8" font-family="Liberation Sans, sans-serif" font-weight="bold" font-size="9.3" fill="#000">Sc<tspan dy="-3.5" font-size="6.5">0</tspan></text>
<text x="264" y="25.9" font-family="Liberation Sans, sans-serif" font-size="8" fill="#777">Sc<tspan dy="2" font-size="5.5">x</tspan><tspan dy="-2">O</tspan><tspan dy="2" font-size="5.5">y</tspan></text>
<text x="264" y="36.6" font-family="Liberation Sans, sans-serif" font-size="7.83" fill="#777">Plasmon Loss</text>
<path d="M281.3,38.9L249.5,54.5" stroke="#888" stroke-width="0.9"/>
<path d="M246.5,56L250,51.8L252,55.8Z" fill="#888"/>
<rect x="429" y="6" width="136" height="218.5" stroke="#000" stroke-width="2" fill="none"/>
<path d="M429,225.2h4.5M565,225.2h-4.5M429,205.31h2.5M565,205.31h-2.5M429,185.43h4.5M565,185.43h-4.5M429,165.54h2.5M565,165.54h-2.5M429,145.66h4.5M565,145.66h-4.5M429,125.77h2.5M565,125.77h-2.5M429,105.89h4.5M565,105.89h-4.5M429,86h2.5M565,86h-2.5M429,66.12h4.5M565,66.12h-4.5M429,46.23h2.5M565,46.23h-2.5M429,26.35h4.5M565,26.35h-4.5M446.5,224.5v-4.5M446.5,6v4.5M480.5,224.5v-4.5M480.5,6v4.5M514.5,224.5v-4.5M514.5,6v4.5M548.5,224.5v-4.5M548.5,6v4.5" stroke="#000" stroke-width="1.6" fill="none"/>
<text x="425.3" y="228.3" font-family="Liberation Sans, sans-serif" font-weight="bold" font-size="10.8" text-anchor="end">0</text>
<text x="425.3" y="188.53" font-family="Liberation Sans, sans-serif" font-weight="bold" font-size="10.8" text-anchor="end">10</text>
<text x="425.3" y="148.76" font-family="Liberation Sans, sans-serif" font-weight="bold" font-size="10.8" text-anchor="end">20</text>
<text x="425.3" y="108.99" font-family="Liberation Sans, sans-serif" font-weight="bold" font-size="10.8" text-anchor="end">30</text>
<text x="425.3" y="69.22" font-family="Liberation Sans, sans-serif" font-weight="bold" font-size="10.8" text-anchor="end">40</text>
<text x="425.3" y="29.45" font-family="Liberation Sans, sans-serif" font-weight="bold" font-size="10.8" text-anchor="end">50</text>
<text transform="translate(407.5,117.5) rotate(-90)" font-family="Liberation Sans, sans-serif" font-weight="bold" font-size="12.6" text-anchor="middle">Sc-Se/Total Sc (%)</text>
<text transform="translate(458.3,234.5) rotate(-45)" font-family="Liberation Sans, sans-serif" font-weight="bold" font-size="12.6" text-anchor="end">As Dep.</text>
<text transform="translate(492.3,234.5) rotate(-45)" font-family="Liberation Sans, sans-serif" font-weight="bold" font-size="12.6" text-anchor="end">200°C</text>
<text transform="translate(524.3,234.5) rotate(-45)" font-family="Liberation Sans, sans-serif" font-weight="bold" font-size="12.6" text-anchor="end">300°C</text>
<text transform="translate(558.1,234.5) rotate(-45)" font-family="Liberation Sans, sans-serif" font-weight="bold" font-size="12.6" text-anchor="end">400°C</text>
<text x="400" y="18.6" font-family="Liberation Sans, sans-serif" font-weight="bold" font-size="13">c)</text>
<path d="M446.5,110.66 L480.5,23.57 L514.5,25.16 L548.5,61.35" stroke="#008000" stroke-width="1.0" fill="none"/>
<path d="M446.5,106.66L450.5,110.66L446.5,114.66L442.5,110.66Z" fill="#008000"/>
<path d="M480.5,19.57L484.5,23.57L480.5,27.57L476.5,23.57Z" fill="#008000"/>
<path d="M514.5,21.16L518.5,25.16L514.5,29.16L510.5,25.16Z" fill="#008000"/>
<path d="M548.5,57.35L552.5,61.35L548.5,65.35L544.5,61.35Z" fill="#008000"/>
</svg></body></html>
